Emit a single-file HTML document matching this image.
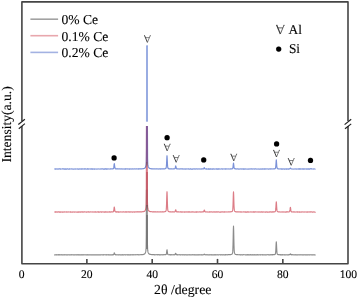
<!DOCTYPE html>
<html><head><meta charset="utf-8"><style>
html,body{margin:0;padding:0;background:#fff;}
body{width:357px;height:298px;overflow:hidden;font-family:"Liberation Serif",serif;}
svg{display:block;}
</style></head><body>
<svg width="357" height="298" viewBox="0 0 357 298">
<rect width="357" height="298" fill="#fff"/>
<g fill="none" stroke-width="1.15" stroke-linejoin="round">
<path d="M54.21 254.75 L54.37 254.85 L54.54 254.78 L54.70 254.89 L54.86 254.73 L55.03 254.78 L55.19 254.76 L55.35 254.81 L55.52 254.81 L55.68 254.74 L55.84 254.84 L56.01 254.88 L56.17 254.88 L56.33 254.72 L56.50 254.84 L56.66 254.89 L56.82 254.79 L56.99 254.87 L57.15 254.81 L57.31 254.74 L57.48 254.85 L57.64 254.81 L57.80 254.71 L57.97 254.73 L58.13 254.73 L58.29 254.89 L58.46 254.70 L58.62 254.79 L58.78 254.87 L58.95 254.70 L59.11 254.87 L59.27 254.70 L59.44 254.89 L59.60 254.88 L59.76 254.80 L59.93 254.78 L60.09 254.78 L60.25 254.74 L60.42 254.88 L60.58 254.75 L60.74 254.84 L60.91 254.71 L61.07 254.77 L61.23 254.76 L61.40 254.87 L61.56 254.72 L61.72 254.84 L61.89 254.86 L62.05 254.82 L62.21 254.74 L62.38 254.83 L62.54 254.80 L62.70 254.78 L62.86 254.85 L63.03 254.88 L63.19 254.82 L63.35 254.76 L63.52 254.76 L63.68 254.86 L63.84 254.77 L64.01 254.73 L64.17 254.76 L64.33 254.86 L64.50 254.89 L64.66 254.70 L64.82 254.76 L64.99 254.84 L65.15 254.75 L65.31 254.78 L65.48 254.77 L65.64 254.83 L65.80 254.77 L65.97 254.82 L66.13 254.82 L66.29 254.83 L66.46 254.75 L66.62 254.73 L66.78 254.84 L66.95 254.88 L67.11 254.85 L67.27 254.75 L67.44 254.83 L67.60 254.90 L67.76 254.73 L67.93 254.81 L68.09 254.89 L68.25 254.75 L68.42 254.80 L68.58 254.73 L68.74 254.73 L68.91 254.73 L69.07 254.72 L69.23 254.82 L69.40 254.74 L69.56 254.80 L69.72 254.77 L69.89 254.86 L70.05 254.77 L70.21 254.88 L70.38 254.73 L70.54 254.86 L70.70 254.79 L70.87 254.73 L71.03 254.73 L71.19 254.73 L71.36 254.81 L71.52 254.88 L71.68 254.70 L71.85 254.84 L72.01 254.73 L72.17 254.82 L72.34 254.81 L72.50 254.79 L72.66 254.79 L72.83 254.74 L72.99 254.78 L73.15 254.87 L73.32 254.79 L73.48 254.88 L73.64 254.73 L73.81 254.86 L73.97 254.83 L74.13 254.78 L74.30 254.83 L74.46 254.72 L74.62 254.74 L74.79 254.83 L74.95 254.81 L75.11 254.75 L75.28 254.80 L75.44 254.77 L75.60 254.83 L75.77 254.78 L75.93 254.78 L76.09 254.72 L76.26 254.83 L76.42 254.74 L76.58 254.86 L76.75 254.84 L76.91 254.85 L77.07 254.71 L77.24 254.88 L77.40 254.84 L77.56 254.81 L77.73 254.76 L77.89 254.77 L78.05 254.87 L78.22 254.82 L78.38 254.75 L78.54 254.87 L78.71 254.87 L78.87 254.73 L79.03 254.90 L79.19 254.88 L79.36 254.86 L79.52 254.73 L79.68 254.83 L79.85 254.81 L80.01 254.79 L80.17 254.72 L80.34 254.89 L80.50 254.86 L80.66 254.82 L80.83 254.77 L80.99 254.87 L81.15 254.81 L81.32 254.78 L81.48 254.89 L81.64 254.83 L81.81 254.89 L81.97 254.72 L82.13 254.90 L82.30 254.87 L82.46 254.78 L82.62 254.85 L82.79 254.78 L82.95 254.83 L83.11 254.70 L83.28 254.78 L83.44 254.83 L83.60 254.86 L83.77 254.80 L83.93 254.74 L84.09 254.76 L84.26 254.76 L84.42 254.80 L84.58 254.71 L84.75 254.82 L84.91 254.79 L85.07 254.71 L85.24 254.74 L85.40 254.80 L85.56 254.74 L85.73 254.74 L85.89 254.84 L86.05 254.82 L86.22 254.75 L86.38 254.82 L86.54 254.83 L86.71 254.79 L86.87 254.88 L87.03 254.85 L87.20 254.70 L87.36 254.85 L87.52 254.74 L87.69 254.90 L87.85 254.84 L88.01 254.80 L88.18 254.84 L88.34 254.71 L88.50 254.71 L88.67 254.84 L88.83 254.87 L88.99 254.71 L89.16 254.74 L89.32 254.79 L89.48 254.89 L89.65 254.90 L89.81 254.76 L89.97 254.76 L90.14 254.80 L90.30 254.83 L90.46 254.84 L90.63 254.82 L90.79 254.81 L90.95 254.78 L91.12 254.82 L91.28 254.83 L91.44 254.85 L91.61 254.77 L91.77 254.71 L91.93 254.86 L92.10 254.74 L92.26 254.77 L92.42 254.85 L92.59 254.87 L92.75 254.73 L92.91 254.87 L93.08 254.87 L93.24 254.88 L93.40 254.74 L93.57 254.82 L93.73 254.90 L93.89 254.84 L94.06 254.79 L94.22 254.80 L94.38 254.87 L94.55 254.73 L94.71 254.76 L94.87 254.84 L95.04 254.83 L95.20 254.85 L95.36 254.89 L95.52 254.78 L95.69 254.84 L95.85 254.77 L96.01 254.73 L96.18 254.83 L96.34 254.84 L96.50 254.82 L96.67 254.80 L96.83 254.89 L96.99 254.82 L97.16 254.83 L97.32 254.88 L97.48 254.73 L97.65 254.76 L97.81 254.80 L97.97 254.88 L98.14 254.75 L98.30 254.82 L98.46 254.72 L98.63 254.77 L98.79 254.85 L98.95 254.75 L99.12 254.78 L99.28 254.83 L99.44 254.74 L99.61 254.83 L99.77 254.87 L99.93 254.89 L100.10 254.77 L100.26 254.84 L100.42 254.87 L100.59 254.89 L100.75 254.74 L100.91 254.84 L101.08 254.73 L101.24 254.72 L101.40 254.73 L101.57 254.85 L101.73 254.71 L101.89 254.77 L102.06 254.73 L102.22 254.71 L102.38 254.83 L102.55 254.82 L102.71 254.72 L102.87 254.84 L103.04 254.88 L103.20 254.89 L103.36 254.79 L103.53 254.83 L103.69 254.71 L103.85 254.89 L104.02 254.82 L104.18 254.75 L104.34 254.77 L104.51 254.73 L104.67 254.77 L104.83 254.72 L105.00 254.70 L105.16 254.72 L105.32 254.77 L105.49 254.82 L105.65 254.79 L105.81 254.85 L105.98 254.84 L106.14 254.79 L106.30 254.81 L106.47 254.82 L106.63 254.88 L106.79 254.70 L106.96 254.83 L107.12 254.80 L107.28 254.82 L107.45 254.78 L107.61 254.74 L107.77 254.71 L107.94 254.77 L108.10 254.71 L108.26 254.82 L108.43 254.80 L108.59 254.83 L108.75 254.70 L108.92 254.87 L109.08 254.85 L109.24 254.74 L109.41 254.84 L109.57 254.88 L109.73 254.82 L109.90 254.80 L110.06 254.80 L110.22 254.84 L110.39 254.82 L110.55 254.83 L110.71 254.85 L110.88 254.78 L111.04 254.84 L111.20 254.84 L111.37 254.70 L111.53 254.70 L111.69 254.80 L111.85 254.77 L112.02 254.85 L112.18 254.86 L112.34 254.76 L112.51 254.67 L112.67 254.83 L112.83 254.75 L113.00 254.67 L113.16 254.80 L113.32 254.65 L113.49 254.65 L113.65 254.39 L113.81 254.05 L113.98 253.53 L114.14 252.99 L114.30 252.88 L114.47 253.04 L114.63 253.63 L114.79 254.18 L114.96 254.51 L115.12 254.61 L115.28 254.69 L115.45 254.72 L115.61 254.63 L115.77 254.79 L115.94 254.68 L116.10 254.83 L116.26 254.72 L116.43 254.78 L116.59 254.79 L116.75 254.78 L116.92 254.85 L117.08 254.83 L117.24 254.80 L117.41 254.84 L117.57 254.71 L117.73 254.75 L117.90 254.76 L118.06 254.75 L118.22 254.85 L118.39 254.88 L118.55 254.87 L118.71 254.71 L118.88 254.79 L119.04 254.69 L119.20 254.82 L119.37 254.81 L119.53 254.76 L119.69 254.72 L119.86 254.80 L120.02 254.79 L120.18 254.82 L120.35 254.84 L120.51 254.71 L120.67 254.71 L120.84 254.80 L121.00 254.86 L121.16 254.72 L121.33 254.80 L121.49 254.74 L121.65 254.81 L121.82 254.87 L121.98 254.74 L122.14 254.87 L122.31 254.70 L122.47 254.86 L122.63 254.82 L122.80 254.89 L122.96 254.85 L123.12 254.76 L123.29 254.87 L123.45 254.87 L123.61 254.88 L123.78 254.89 L123.94 254.79 L124.10 254.84 L124.27 254.74 L124.43 254.75 L124.59 254.79 L124.76 254.70 L124.92 254.69 L125.08 254.83 L125.25 254.73 L125.41 254.75 L125.57 254.85 L125.74 254.73 L125.90 254.88 L126.06 254.75 L126.23 254.71 L126.39 254.76 L126.55 254.75 L126.72 254.76 L126.88 254.81 L127.04 254.86 L127.21 254.81 L127.37 254.82 L127.53 254.72 L127.70 254.71 L127.86 254.69 L128.02 254.82 L128.18 254.71 L128.35 254.70 L128.51 254.88 L128.67 254.78 L128.84 254.87 L129.00 254.87 L129.16 254.80 L129.33 254.74 L129.49 254.85 L129.65 254.82 L129.82 254.79 L129.98 254.77 L130.14 254.86 L130.31 254.85 L130.47 254.88 L130.63 254.82 L130.80 254.68 L130.96 254.84 L131.12 254.73 L131.29 254.75 L131.45 254.71 L131.61 254.72 L131.78 254.87 L131.94 254.81 L132.10 254.71 L132.27 254.75 L132.43 254.71 L132.59 254.87 L132.76 254.71 L132.92 254.80 L133.08 254.72 L133.25 254.76 L133.41 254.80 L133.57 254.77 L133.74 254.87 L133.90 254.68 L134.06 254.70 L134.23 254.74 L134.39 254.74 L134.55 254.72 L134.72 254.78 L134.88 254.82 L135.04 254.74 L135.21 254.67 L135.37 254.69 L135.53 254.70 L135.70 254.83 L135.86 254.80 L136.02 254.80 L136.19 254.75 L136.35 254.68 L136.51 254.73 L136.68 254.74 L136.84 254.77 L137.00 254.82 L137.17 254.80 L137.33 254.65 L137.49 254.66 L137.66 254.71 L137.82 254.71 L137.98 254.80 L138.15 254.83 L138.31 254.83 L138.47 254.83 L138.64 254.79 L138.80 254.63 L138.96 254.71 L139.13 254.78 L139.29 254.80 L139.45 254.81 L139.62 254.81 L139.78 254.78 L139.94 254.74 L140.11 254.77 L140.27 254.75 L140.43 254.66 L140.60 254.76 L140.76 254.75 L140.92 254.61 L141.09 254.70 L141.25 254.63 L141.41 254.69 L141.58 254.59 L141.74 254.72 L141.90 254.66 L142.07 254.53 L142.23 254.63 L142.39 254.54 L142.56 254.61 L142.72 254.61 L142.88 254.52 L143.05 254.49 L143.21 254.55 L143.37 254.42 L143.54 254.40 L143.70 254.37 L143.86 254.24 L144.03 254.15 L144.19 254.18 L144.35 254.12 L144.51 253.92 L144.68 253.80 L144.84 253.70 L145.00 253.49 L145.17 253.29 L145.33 252.90 L145.49 252.49 L145.66 251.85 L145.82 251.13 L145.98 249.94 L146.15 247.17 L146.31 234.33 L146.47 190.00 L146.64 190.00 L146.80 190.00 L146.96 190.00 L147.13 190.00 L147.29 216.48 L147.45 244.24 L147.62 249.11 L147.78 250.70 L147.94 251.65 L148.11 252.31 L148.27 252.80 L148.43 253.11 L148.60 253.32 L148.76 253.61 L148.92 253.76 L149.09 254.02 L149.25 254.00 L149.41 254.12 L149.58 254.15 L149.74 254.30 L149.90 254.29 L150.07 254.36 L150.23 254.35 L150.39 254.45 L150.56 254.41 L150.72 254.42 L150.88 254.51 L151.05 254.54 L151.21 254.52 L151.37 254.57 L151.54 254.50 L151.70 254.52 L151.86 254.62 L152.03 254.59 L152.19 254.72 L152.35 254.57 L152.52 254.63 L152.68 254.76 L152.84 254.77 L153.01 254.61 L153.17 254.63 L153.33 254.67 L153.50 254.71 L153.66 254.75 L153.82 254.71 L153.99 254.63 L154.15 254.69 L154.31 254.81 L154.48 254.78 L154.64 254.80 L154.80 254.65 L154.97 254.66 L155.13 254.65 L155.29 254.75 L155.46 254.77 L155.62 254.83 L155.78 254.79 L155.95 254.77 L156.11 254.77 L156.27 254.78 L156.44 254.70 L156.60 254.68 L156.76 254.77 L156.93 254.69 L157.09 254.79 L157.25 254.80 L157.42 254.70 L157.58 254.84 L157.74 254.84 L157.91 254.66 L158.07 254.76 L158.23 254.78 L158.40 254.71 L158.56 254.68 L158.72 254.79 L158.89 254.70 L159.05 254.84 L159.21 254.69 L159.38 254.78 L159.54 254.79 L159.70 254.86 L159.87 254.85 L160.03 254.79 L160.19 254.84 L160.35 254.73 L160.52 254.67 L160.68 254.81 L160.84 254.72 L161.01 254.75 L161.17 254.74 L161.33 254.71 L161.50 254.77 L161.66 254.70 L161.82 254.83 L161.99 254.73 L162.15 254.76 L162.31 254.83 L162.48 254.82 L162.64 254.67 L162.80 254.74 L162.97 254.76 L163.13 254.76 L163.29 254.69 L163.46 254.73 L163.62 254.81 L163.78 254.66 L163.95 254.68 L164.11 254.69 L164.27 254.70 L164.44 254.70 L164.60 254.76 L164.76 254.63 L164.93 254.67 L165.09 254.77 L165.25 254.62 L165.42 254.68 L165.58 254.72 L165.74 254.52 L165.91 254.59 L166.07 254.45 L166.23 254.29 L166.40 253.71 L166.56 252.77 L166.72 251.34 L166.89 250.03 L167.05 249.78 L167.21 250.82 L167.38 252.30 L167.54 253.32 L167.70 254.12 L167.87 254.41 L168.03 254.50 L168.19 254.61 L168.36 254.61 L168.52 254.73 L168.68 254.73 L168.85 254.79 L169.01 254.72 L169.17 254.77 L169.34 254.67 L169.50 254.79 L169.66 254.80 L169.83 254.70 L169.99 254.81 L170.15 254.69 L170.32 254.75 L170.48 254.83 L170.64 254.72 L170.81 254.67 L170.97 254.81 L171.13 254.76 L171.30 254.76 L171.46 254.68 L171.62 254.67 L171.79 254.86 L171.95 254.80 L172.11 254.71 L172.28 254.79 L172.44 254.77 L172.60 254.76 L172.77 254.87 L172.93 254.86 L173.09 254.69 L173.26 254.79 L173.42 254.78 L173.58 254.75 L173.75 254.71 L173.91 254.68 L174.07 254.84 L174.24 254.72 L174.40 254.83 L174.56 254.71 L174.73 254.63 L174.89 254.64 L175.05 254.55 L175.22 254.21 L175.38 253.86 L175.54 253.40 L175.71 253.28 L175.87 253.54 L176.03 253.89 L176.20 254.30 L176.36 254.63 L176.52 254.72 L176.68 254.61 L176.85 254.69 L177.01 254.83 L177.17 254.70 L177.34 254.71 L177.50 254.85 L177.66 254.67 L177.83 254.84 L177.99 254.77 L178.15 254.73 L178.32 254.78 L178.48 254.81 L178.64 254.79 L178.81 254.76 L178.97 254.69 L179.13 254.71 L179.30 254.69 L179.46 254.72 L179.62 254.79 L179.79 254.82 L179.95 254.71 L180.11 254.70 L180.28 254.83 L180.44 254.73 L180.60 254.82 L180.77 254.88 L180.93 254.80 L181.09 254.71 L181.26 254.78 L181.42 254.73 L181.58 254.72 L181.75 254.73 L181.91 254.83 L182.07 254.71 L182.24 254.87 L182.40 254.79 L182.56 254.88 L182.73 254.82 L182.89 254.72 L183.05 254.73 L183.22 254.69 L183.38 254.78 L183.54 254.79 L183.71 254.86 L183.87 254.80 L184.03 254.71 L184.20 254.83 L184.36 254.72 L184.52 254.83 L184.69 254.73 L184.85 254.86 L185.01 254.70 L185.18 254.87 L185.34 254.88 L185.50 254.78 L185.67 254.74 L185.83 254.75 L185.99 254.81 L186.16 254.75 L186.32 254.85 L186.48 254.83 L186.65 254.84 L186.81 254.85 L186.97 254.89 L187.14 254.85 L187.30 254.79 L187.46 254.77 L187.63 254.83 L187.79 254.77 L187.95 254.83 L188.12 254.73 L188.28 254.89 L188.44 254.74 L188.61 254.71 L188.77 254.78 L188.93 254.77 L189.10 254.70 L189.26 254.87 L189.42 254.88 L189.59 254.79 L189.75 254.75 L189.91 254.79 L190.08 254.80 L190.24 254.81 L190.40 254.80 L190.57 254.72 L190.73 254.88 L190.89 254.76 L191.06 254.88 L191.22 254.73 L191.38 254.84 L191.55 254.74 L191.71 254.83 L191.87 254.77 L192.04 254.79 L192.20 254.70 L192.36 254.80 L192.53 254.79 L192.69 254.80 L192.85 254.85 L193.01 254.71 L193.18 254.83 L193.34 254.87 L193.50 254.85 L193.67 254.75 L193.83 254.71 L193.99 254.78 L194.16 254.70 L194.32 254.85 L194.48 254.72 L194.65 254.74 L194.81 254.85 L194.97 254.88 L195.14 254.81 L195.30 254.81 L195.46 254.80 L195.63 254.75 L195.79 254.85 L195.95 254.84 L196.12 254.83 L196.28 254.86 L196.44 254.81 L196.61 254.78 L196.77 254.84 L196.93 254.87 L197.10 254.75 L197.26 254.88 L197.42 254.72 L197.59 254.77 L197.75 254.85 L197.91 254.89 L198.08 254.73 L198.24 254.89 L198.40 254.74 L198.57 254.79 L198.73 254.76 L198.89 254.85 L199.06 254.75 L199.22 254.84 L199.38 254.78 L199.55 254.70 L199.71 254.78 L199.87 254.86 L200.04 254.85 L200.20 254.81 L200.36 254.73 L200.53 254.73 L200.69 254.81 L200.85 254.78 L201.02 254.82 L201.18 254.79 L201.34 254.83 L201.51 254.70 L201.67 254.82 L201.83 254.83 L202.00 254.76 L202.16 254.84 L202.32 254.86 L202.49 254.80 L202.65 254.72 L202.81 254.81 L202.98 254.82 L203.14 254.81 L203.30 254.74 L203.47 254.79 L203.63 254.69 L203.79 254.61 L203.96 254.55 L204.12 254.33 L204.28 254.13 L204.45 254.32 L204.61 254.38 L204.77 254.67 L204.94 254.69 L205.10 254.75 L205.26 254.73 L205.43 254.87 L205.59 254.85 L205.75 254.80 L205.92 254.70 L206.08 254.78 L206.24 254.71 L206.41 254.78 L206.57 254.69 L206.73 254.87 L206.90 254.72 L207.06 254.84 L207.22 254.85 L207.39 254.79 L207.55 254.81 L207.71 254.69 L207.88 254.71 L208.04 254.75 L208.20 254.84 L208.37 254.85 L208.53 254.80 L208.69 254.83 L208.86 254.85 L209.02 254.85 L209.18 254.84 L209.34 254.83 L209.51 254.87 L209.67 254.83 L209.83 254.70 L210.00 254.73 L210.16 254.77 L210.32 254.70 L210.49 254.71 L210.65 254.88 L210.81 254.88 L210.98 254.83 L211.14 254.79 L211.30 254.69 L211.47 254.89 L211.63 254.75 L211.79 254.74 L211.96 254.84 L212.12 254.74 L212.28 254.72 L212.45 254.88 L212.61 254.76 L212.77 254.80 L212.94 254.74 L213.10 254.86 L213.26 254.76 L213.43 254.89 L213.59 254.89 L213.75 254.81 L213.92 254.82 L214.08 254.81 L214.24 254.85 L214.41 254.69 L214.57 254.81 L214.73 254.79 L214.90 254.82 L215.06 254.72 L215.22 254.86 L215.39 254.71 L215.55 254.85 L215.71 254.72 L215.88 254.81 L216.04 254.77 L216.20 254.84 L216.37 254.73 L216.53 254.85 L216.69 254.73 L216.86 254.76 L217.02 254.71 L217.18 254.69 L217.35 254.73 L217.51 254.86 L217.67 254.73 L217.84 254.87 L218.00 254.73 L218.16 254.71 L218.33 254.86 L218.49 254.88 L218.65 254.73 L218.82 254.82 L218.98 254.75 L219.14 254.73 L219.31 254.70 L219.47 254.79 L219.63 254.72 L219.80 254.71 L219.96 254.73 L220.12 254.81 L220.29 254.70 L220.45 254.80 L220.61 254.71 L220.78 254.81 L220.94 254.79 L221.10 254.88 L221.27 254.87 L221.43 254.70 L221.59 254.79 L221.76 254.74 L221.92 254.79 L222.08 254.74 L222.25 254.78 L222.41 254.85 L222.57 254.82 L222.74 254.76 L222.90 254.85 L223.06 254.69 L223.23 254.87 L223.39 254.77 L223.55 254.71 L223.72 254.73 L223.88 254.85 L224.04 254.86 L224.21 254.74 L224.37 254.79 L224.53 254.86 L224.70 254.85 L224.86 254.74 L225.02 254.87 L225.19 254.81 L225.35 254.68 L225.51 254.82 L225.67 254.70 L225.84 254.86 L226.00 254.83 L226.16 254.85 L226.33 254.72 L226.49 254.75 L226.65 254.71 L226.82 254.69 L226.98 254.71 L227.14 254.83 L227.31 254.76 L227.47 254.84 L227.63 254.69 L227.80 254.77 L227.96 254.75 L228.12 254.66 L228.29 254.63 L228.45 254.71 L228.61 254.74 L228.78 254.64 L228.94 254.64 L229.10 254.76 L229.27 254.70 L229.43 254.60 L229.59 254.58 L229.76 254.58 L229.92 254.66 L230.08 254.71 L230.25 254.55 L230.41 254.67 L230.57 254.56 L230.74 254.58 L230.90 254.46 L231.06 254.52 L231.23 254.47 L231.39 254.33 L231.55 254.28 L231.72 254.14 L231.88 254.21 L232.04 254.06 L232.21 253.75 L232.37 253.48 L232.53 252.89 L232.70 251.90 L232.86 249.59 L233.02 244.75 L233.19 237.40 L233.35 229.42 L233.51 226.17 L233.68 230.54 L233.84 238.78 L234.00 245.71 L234.17 250.09 L234.33 252.04 L234.49 253.15 L234.66 253.51 L234.82 253.78 L234.98 254.07 L235.15 254.13 L235.31 254.33 L235.47 254.43 L235.64 254.45 L235.80 254.54 L235.96 254.51 L236.13 254.50 L236.29 254.48 L236.45 254.64 L236.62 254.61 L236.78 254.59 L236.94 254.68 L237.11 254.70 L237.27 254.70 L237.43 254.61 L237.60 254.72 L237.76 254.64 L237.92 254.77 L238.09 254.75 L238.25 254.76 L238.41 254.78 L238.58 254.80 L238.74 254.75 L238.90 254.67 L239.07 254.71 L239.23 254.64 L239.39 254.78 L239.56 254.79 L239.72 254.80 L239.88 254.75 L240.05 254.83 L240.21 254.70 L240.37 254.77 L240.54 254.85 L240.70 254.76 L240.86 254.78 L241.03 254.83 L241.19 254.81 L241.35 254.73 L241.52 254.67 L241.68 254.75 L241.84 254.82 L242.00 254.87 L242.17 254.81 L242.33 254.83 L242.49 254.79 L242.66 254.79 L242.82 254.82 L242.98 254.85 L243.15 254.69 L243.31 254.69 L243.47 254.74 L243.64 254.69 L243.80 254.77 L243.96 254.73 L244.13 254.79 L244.29 254.75 L244.45 254.71 L244.62 254.74 L244.78 254.72 L244.94 254.76 L245.11 254.82 L245.27 254.72 L245.43 254.71 L245.60 254.84 L245.76 254.85 L245.92 254.88 L246.09 254.84 L246.25 254.85 L246.41 254.85 L246.58 254.85 L246.74 254.82 L246.90 254.85 L247.07 254.70 L247.23 254.87 L247.39 254.89 L247.56 254.70 L247.72 254.81 L247.88 254.74 L248.05 254.83 L248.21 254.89 L248.37 254.88 L248.54 254.71 L248.70 254.88 L248.86 254.80 L249.03 254.84 L249.19 254.76 L249.35 254.82 L249.52 254.73 L249.68 254.85 L249.84 254.78 L250.01 254.70 L250.17 254.79 L250.33 254.70 L250.50 254.88 L250.66 254.72 L250.82 254.81 L250.99 254.69 L251.15 254.75 L251.31 254.84 L251.48 254.74 L251.64 254.86 L251.80 254.79 L251.97 254.74 L252.13 254.86 L252.29 254.88 L252.46 254.72 L252.62 254.86 L252.78 254.74 L252.95 254.80 L253.11 254.85 L253.27 254.72 L253.44 254.82 L253.60 254.84 L253.76 254.71 L253.93 254.70 L254.09 254.83 L254.25 254.70 L254.42 254.87 L254.58 254.73 L254.74 254.78 L254.91 254.84 L255.07 254.81 L255.23 254.83 L255.40 254.76 L255.56 254.81 L255.72 254.81 L255.89 254.76 L256.05 254.82 L256.21 254.88 L256.38 254.80 L256.54 254.72 L256.70 254.85 L256.87 254.84 L257.03 254.71 L257.19 254.86 L257.36 254.70 L257.52 254.83 L257.68 254.85 L257.85 254.75 L258.01 254.72 L258.17 254.80 L258.33 254.84 L258.50 254.87 L258.66 254.89 L258.82 254.75 L258.99 254.75 L259.15 254.83 L259.31 254.80 L259.48 254.74 L259.64 254.75 L259.80 254.76 L259.97 254.71 L260.13 254.85 L260.29 254.70 L260.46 254.77 L260.62 254.83 L260.78 254.76 L260.95 254.83 L261.11 254.81 L261.27 254.73 L261.44 254.73 L261.60 254.77 L261.76 254.73 L261.93 254.72 L262.09 254.82 L262.25 254.88 L262.42 254.70 L262.58 254.88 L262.74 254.80 L262.91 254.87 L263.07 254.78 L263.23 254.74 L263.40 254.89 L263.56 254.79 L263.72 254.81 L263.89 254.76 L264.05 254.71 L264.21 254.76 L264.38 254.88 L264.54 254.82 L264.70 254.80 L264.87 254.86 L265.03 254.72 L265.19 254.82 L265.36 254.82 L265.52 254.85 L265.68 254.78 L265.85 254.73 L266.01 254.87 L266.17 254.79 L266.34 254.83 L266.50 254.88 L266.66 254.81 L266.83 254.76 L266.99 254.77 L267.15 254.69 L267.32 254.75 L267.48 254.70 L267.64 254.74 L267.81 254.75 L267.97 254.71 L268.13 254.71 L268.30 254.73 L268.46 254.82 L268.62 254.83 L268.79 254.71 L268.95 254.88 L269.11 254.80 L269.28 254.71 L269.44 254.82 L269.60 254.78 L269.77 254.81 L269.93 254.75 L270.09 254.71 L270.26 254.86 L270.42 254.79 L270.58 254.70 L270.75 254.79 L270.91 254.67 L271.07 254.81 L271.24 254.76 L271.40 254.83 L271.56 254.69 L271.73 254.76 L271.89 254.69 L272.05 254.71 L272.22 254.80 L272.38 254.67 L272.54 254.83 L272.71 254.65 L272.87 254.67 L273.03 254.77 L273.20 254.70 L273.36 254.73 L273.52 254.70 L273.69 254.59 L273.85 254.67 L274.01 254.63 L274.18 254.71 L274.34 254.68 L274.50 254.55 L274.66 254.52 L274.83 254.35 L274.99 254.33 L275.15 254.14 L275.32 253.98 L275.48 253.46 L275.64 252.57 L275.81 250.58 L275.97 247.17 L276.13 243.55 L276.30 241.86 L276.46 243.56 L276.62 247.14 L276.79 250.34 L276.95 252.46 L277.11 253.54 L277.28 253.97 L277.44 254.24 L277.60 254.36 L277.77 254.50 L277.93 254.46 L278.09 254.64 L278.26 254.58 L278.42 254.70 L278.58 254.71 L278.75 254.61 L278.91 254.60 L279.07 254.69 L279.24 254.61 L279.40 254.67 L279.56 254.71 L279.73 254.71 L279.89 254.83 L280.05 254.82 L280.22 254.69 L280.38 254.77 L280.54 254.66 L280.71 254.80 L280.87 254.80 L281.03 254.82 L281.20 254.68 L281.36 254.76 L281.52 254.82 L281.69 254.86 L281.85 254.75 L282.01 254.87 L282.18 254.70 L282.34 254.84 L282.50 254.72 L282.67 254.70 L282.83 254.82 L282.99 254.76 L283.16 254.74 L283.32 254.79 L283.48 254.80 L283.65 254.71 L283.81 254.83 L283.97 254.77 L284.14 254.88 L284.30 254.77 L284.46 254.69 L284.63 254.81 L284.79 254.74 L284.95 254.82 L285.12 254.81 L285.28 254.81 L285.44 254.71 L285.61 254.82 L285.77 254.88 L285.93 254.78 L286.10 254.77 L286.26 254.77 L286.42 254.79 L286.59 254.83 L286.75 254.74 L286.91 254.84 L287.08 254.83 L287.24 254.85 L287.40 254.87 L287.57 254.84 L287.73 254.75 L287.89 254.80 L288.06 254.79 L288.22 254.83 L288.38 254.83 L288.55 254.74 L288.71 254.68 L288.87 254.84 L289.04 254.72 L289.20 254.66 L289.36 254.73 L289.53 254.63 L289.69 254.72 L289.85 254.47 L290.02 254.39 L290.18 254.08 L290.34 253.89 L290.51 253.95 L290.67 254.05 L290.83 254.41 L290.99 254.60 L291.16 254.63 L291.32 254.77 L291.48 254.67 L291.65 254.82 L291.81 254.67 L291.97 254.70 L292.14 254.78 L292.30 254.69 L292.46 254.71 L292.63 254.69 L292.79 254.83 L292.95 254.80 L293.12 254.83 L293.28 254.80 L293.44 254.78 L293.61 254.72 L293.77 254.83 L293.93 254.78 L294.10 254.84 L294.26 254.80 L294.42 254.88 L294.59 254.78 L294.75 254.77 L294.91 254.78 L295.08 254.72 L295.24 254.79 L295.40 254.84 L295.57 254.70 L295.73 254.81 L295.89 254.86 L296.06 254.79 L296.22 254.75 L296.38 254.84 L296.55 254.85 L296.71 254.88 L296.87 254.78 L297.04 254.82 L297.20 254.74 L297.36 254.86 L297.53 254.77 L297.69 254.87 L297.85 254.86 L298.02 254.87 L298.18 254.77 L298.34 254.75 L298.51 254.81 L298.67 254.73 L298.83 254.74 L299.00 254.72 L299.16 254.77 L299.32 254.81 L299.49 254.81 L299.65 254.74 L299.81 254.84 L299.98 254.85 L300.14 254.70 L300.30 254.71 L300.47 254.77 L300.63 254.73 L300.79 254.89 L300.96 254.74 L301.12 254.78 L301.28 254.84 L301.45 254.84 L301.61 254.76 L301.77 254.71 L301.94 254.75 L302.10 254.89 L302.26 254.78 L302.43 254.83 L302.59 254.85 L302.75 254.89 L302.92 254.78 L303.08 254.84 L303.24 254.83 L303.41 254.80 L303.57 254.72 L303.73 254.84 L303.90 254.78 L304.06 254.77 L304.22 254.75 L304.39 254.73 L304.55 254.85 L304.71 254.73 L304.88 254.88 L305.04 254.81 L305.20 254.75 L305.37 254.72 L305.53 254.83 L305.69 254.76 L305.86 254.76 L306.02 254.89 L306.18 254.75 L306.35 254.73 L306.51 254.87 L306.67 254.83 L306.84 254.81 L307.00 254.71 L307.16 254.71 L307.32 254.86 L307.49 254.82 L307.65 254.87 L307.81 254.89 L307.98 254.86 L308.14 254.71 L308.30 254.72 L308.47 254.86 L308.63 254.77 L308.79 254.77 L308.96 254.81 L309.12 254.73 L309.28 254.88 L309.45 254.84 L309.61 254.88 L309.77 254.72 L309.94 254.74 L310.10 254.81 L310.26 254.88 L310.43 254.73 L310.59 254.74 L310.75 254.72 L310.92 254.71 L311.08 254.77 L311.24 254.80 L311.41 254.74 L311.57 254.87 L311.73 254.73 L311.90 254.84 L312.06 254.81 L312.22 254.72 L312.39 254.90 L312.55 254.83 L312.71 254.74 L312.88 254.82 L313.04 254.72 L313.20 254.76 L313.37 254.85 L313.53 254.80 L313.69 254.83 L313.86 254.77 L314.02 254.76 L314.18 254.80 L314.35 254.88 L314.51 254.73 L314.67 254.86 L314.84 254.77 L315.00 254.73 L315.16 254.81 L315.33 254.89 L315.49 254.79" stroke="#8c8c8c" style="mix-blend-mode:multiply"/>
<path d="M54.21 212.00 L54.37 212.00 L54.54 212.01 L54.70 212.00 L54.86 211.96 L55.03 212.06 L55.19 211.90 L55.35 212.08 L55.52 211.93 L55.68 212.06 L55.84 211.94 L56.01 212.05 L56.17 212.08 L56.33 211.99 L56.50 211.93 L56.66 211.93 L56.82 211.92 L56.99 211.90 L57.15 212.09 L57.31 212.02 L57.48 212.08 L57.64 211.95 L57.80 212.01 L57.97 211.95 L58.13 211.94 L58.29 211.90 L58.46 211.96 L58.62 211.92 L58.78 211.99 L58.95 212.08 L59.11 211.92 L59.27 212.08 L59.44 212.08 L59.60 211.93 L59.76 212.04 L59.93 211.97 L60.09 212.09 L60.25 212.06 L60.42 211.96 L60.58 212.09 L60.74 212.00 L60.91 211.91 L61.07 212.06 L61.23 211.96 L61.40 211.95 L61.56 211.98 L61.72 211.95 L61.89 211.96 L62.05 212.10 L62.21 212.06 L62.38 211.99 L62.54 211.91 L62.70 212.06 L62.86 211.98 L63.03 212.07 L63.19 211.93 L63.35 212.01 L63.52 211.99 L63.68 211.97 L63.84 212.07 L64.01 211.95 L64.17 211.94 L64.33 211.93 L64.50 212.04 L64.66 212.05 L64.82 212.07 L64.99 211.92 L65.15 212.01 L65.31 212.02 L65.48 211.99 L65.64 211.96 L65.80 212.04 L65.97 212.03 L66.13 211.95 L66.29 211.94 L66.46 212.04 L66.62 212.08 L66.78 211.91 L66.95 211.95 L67.11 211.98 L67.27 212.02 L67.44 211.91 L67.60 212.01 L67.76 212.06 L67.93 212.08 L68.09 212.03 L68.25 211.98 L68.42 212.03 L68.58 211.91 L68.74 211.97 L68.91 212.01 L69.07 211.97 L69.23 211.98 L69.40 211.98 L69.56 212.00 L69.72 211.99 L69.89 212.00 L70.05 211.93 L70.21 212.06 L70.38 211.94 L70.54 212.04 L70.70 211.93 L70.87 212.08 L71.03 212.00 L71.19 212.01 L71.36 211.96 L71.52 212.06 L71.68 212.05 L71.85 212.07 L72.01 211.99 L72.17 211.98 L72.34 212.10 L72.50 212.06 L72.66 212.06 L72.83 211.91 L72.99 212.01 L73.15 211.99 L73.32 212.04 L73.48 211.97 L73.64 211.94 L73.81 211.96 L73.97 212.10 L74.13 212.01 L74.30 212.00 L74.46 212.09 L74.62 211.94 L74.79 212.03 L74.95 212.04 L75.11 211.97 L75.28 211.98 L75.44 212.00 L75.60 211.93 L75.77 211.99 L75.93 212.03 L76.09 212.09 L76.26 211.99 L76.42 212.03 L76.58 211.99 L76.75 212.03 L76.91 212.10 L77.07 212.09 L77.24 212.07 L77.40 212.08 L77.56 211.93 L77.73 211.98 L77.89 212.05 L78.05 211.96 L78.22 211.97 L78.38 212.09 L78.54 211.95 L78.71 212.05 L78.87 211.90 L79.03 212.07 L79.19 212.04 L79.36 212.05 L79.52 211.93 L79.68 211.93 L79.85 211.98 L80.01 212.07 L80.17 212.01 L80.34 211.96 L80.50 212.09 L80.66 211.91 L80.83 211.93 L80.99 211.91 L81.15 211.96 L81.32 211.97 L81.48 211.90 L81.64 212.04 L81.81 212.04 L81.97 212.07 L82.13 212.06 L82.30 211.94 L82.46 212.08 L82.62 211.95 L82.79 212.02 L82.95 211.92 L83.11 211.95 L83.28 211.96 L83.44 211.93 L83.60 212.09 L83.77 212.05 L83.93 212.02 L84.09 212.01 L84.26 211.96 L84.42 211.92 L84.58 211.95 L84.75 211.91 L84.91 211.96 L85.07 212.03 L85.24 212.00 L85.40 211.95 L85.56 211.94 L85.73 212.02 L85.89 212.03 L86.05 211.98 L86.22 212.05 L86.38 211.92 L86.54 212.10 L86.71 211.97 L86.87 212.00 L87.03 212.06 L87.20 211.98 L87.36 212.00 L87.52 211.91 L87.69 211.92 L87.85 211.98 L88.01 211.92 L88.18 211.92 L88.34 212.06 L88.50 211.93 L88.67 211.93 L88.83 211.90 L88.99 211.95 L89.16 212.02 L89.32 212.06 L89.48 211.97 L89.65 212.06 L89.81 211.95 L89.97 211.98 L90.14 211.93 L90.30 212.03 L90.46 212.04 L90.63 211.92 L90.79 211.97 L90.95 212.02 L91.12 211.99 L91.28 212.01 L91.44 211.97 L91.61 211.99 L91.77 212.04 L91.93 211.90 L92.10 211.92 L92.26 211.95 L92.42 212.04 L92.59 212.06 L92.75 211.95 L92.91 211.93 L93.08 211.97 L93.24 212.05 L93.40 211.95 L93.57 211.99 L93.73 212.02 L93.89 211.98 L94.06 212.01 L94.22 211.97 L94.38 211.95 L94.55 211.90 L94.71 212.07 L94.87 211.98 L95.04 211.91 L95.20 211.97 L95.36 211.98 L95.52 211.93 L95.69 212.09 L95.85 211.94 L96.01 211.97 L96.18 211.98 L96.34 212.03 L96.50 211.97 L96.67 212.07 L96.83 211.99 L96.99 212.05 L97.16 211.91 L97.32 211.94 L97.48 212.00 L97.65 211.95 L97.81 212.02 L97.97 211.99 L98.14 212.06 L98.30 211.92 L98.46 211.94 L98.63 211.94 L98.79 212.08 L98.95 211.93 L99.12 212.09 L99.28 211.98 L99.44 212.00 L99.61 212.08 L99.77 212.01 L99.93 211.92 L100.10 211.97 L100.26 212.03 L100.42 211.93 L100.59 212.02 L100.75 211.92 L100.91 212.02 L101.08 212.08 L101.24 211.90 L101.40 212.08 L101.57 212.04 L101.73 211.94 L101.89 212.07 L102.06 211.99 L102.22 211.92 L102.38 211.98 L102.55 212.03 L102.71 211.94 L102.87 211.93 L103.04 211.98 L103.20 211.97 L103.36 212.03 L103.53 212.01 L103.69 211.90 L103.85 211.90 L104.02 212.09 L104.18 212.05 L104.34 212.05 L104.51 211.93 L104.67 212.05 L104.83 212.06 L105.00 211.94 L105.16 212.06 L105.32 211.90 L105.49 212.00 L105.65 211.91 L105.81 211.93 L105.98 212.05 L106.14 211.93 L106.30 212.01 L106.47 212.05 L106.63 212.08 L106.79 211.95 L106.96 211.98 L107.12 212.03 L107.28 211.92 L107.45 212.05 L107.61 212.00 L107.77 212.07 L107.94 212.02 L108.10 211.91 L108.26 211.99 L108.43 212.06 L108.59 212.04 L108.75 211.96 L108.92 212.03 L109.08 211.91 L109.24 212.07 L109.41 211.91 L109.57 211.96 L109.73 211.92 L109.90 212.01 L110.06 212.06 L110.22 212.04 L110.39 211.95 L110.55 212.07 L110.71 212.05 L110.88 211.91 L111.04 211.89 L111.20 211.89 L111.37 211.89 L111.53 211.94 L111.69 211.87 L111.85 211.90 L112.02 211.92 L112.18 211.94 L112.34 212.01 L112.51 211.98 L112.67 211.93 L112.83 211.86 L113.00 211.90 L113.16 211.67 L113.32 211.67 L113.49 211.45 L113.65 211.02 L113.81 210.35 L113.98 208.95 L114.14 207.54 L114.30 207.04 L114.47 207.77 L114.63 209.04 L114.79 210.27 L114.96 211.07 L115.12 211.53 L115.28 211.67 L115.45 211.85 L115.61 211.87 L115.77 211.87 L115.94 211.83 L116.10 211.98 L116.26 211.83 L116.43 212.02 L116.59 211.84 L116.75 211.99 L116.92 211.88 L117.08 211.89 L117.24 211.87 L117.41 211.97 L117.57 211.92 L117.73 212.01 L117.90 211.90 L118.06 212.05 L118.22 211.90 L118.39 211.96 L118.55 212.06 L118.71 211.89 L118.88 212.01 L119.04 212.07 L119.20 212.03 L119.37 212.08 L119.53 212.02 L119.69 211.94 L119.86 211.88 L120.02 211.96 L120.18 211.91 L120.35 211.92 L120.51 211.94 L120.67 212.01 L120.84 212.03 L121.00 212.05 L121.16 211.98 L121.33 212.04 L121.49 211.94 L121.65 212.02 L121.82 211.97 L121.98 211.98 L122.14 211.96 L122.31 212.06 L122.47 212.04 L122.63 211.95 L122.80 212.04 L122.96 211.95 L123.12 211.89 L123.29 212.01 L123.45 211.89 L123.61 211.96 L123.78 211.90 L123.94 211.98 L124.10 211.94 L124.27 211.95 L124.43 212.05 L124.59 211.98 L124.76 211.97 L124.92 211.99 L125.08 211.95 L125.25 211.90 L125.41 211.93 L125.57 211.92 L125.74 212.06 L125.90 211.95 L126.06 211.96 L126.23 211.90 L126.39 212.09 L126.55 212.05 L126.72 211.89 L126.88 212.01 L127.04 211.94 L127.21 211.97 L127.37 212.01 L127.53 212.00 L127.70 211.97 L127.86 211.89 L128.02 211.98 L128.18 211.93 L128.35 212.02 L128.51 211.94 L128.67 211.96 L128.84 211.93 L129.00 211.91 L129.16 212.07 L129.33 211.89 L129.49 211.96 L129.65 212.03 L129.82 211.99 L129.98 212.06 L130.14 212.03 L130.31 211.91 L130.47 211.94 L130.63 211.91 L130.80 212.05 L130.96 212.06 L131.12 212.00 L131.29 211.98 L131.45 211.94 L131.61 212.02 L131.78 211.93 L131.94 211.96 L132.10 212.02 L132.27 211.92 L132.43 212.06 L132.59 211.96 L132.76 212.04 L132.92 212.07 L133.08 211.98 L133.25 211.97 L133.41 211.95 L133.57 212.00 L133.74 211.88 L133.90 211.91 L134.06 212.04 L134.23 212.07 L134.39 211.88 L134.55 211.98 L134.72 212.05 L134.88 212.03 L135.04 211.92 L135.21 212.03 L135.37 211.99 L135.53 211.93 L135.70 211.99 L135.86 211.93 L136.02 211.87 L136.19 211.90 L136.35 211.93 L136.51 211.93 L136.68 211.99 L136.84 211.92 L137.00 211.92 L137.17 211.93 L137.33 211.95 L137.49 211.89 L137.66 212.00 L137.82 211.90 L137.98 211.84 L138.15 212.03 L138.31 211.98 L138.47 211.83 L138.64 212.01 L138.80 211.86 L138.96 211.91 L139.13 212.01 L139.29 211.89 L139.45 212.01 L139.62 211.84 L139.78 211.94 L139.94 211.82 L140.11 211.82 L140.27 211.96 L140.43 211.91 L140.60 211.95 L140.76 211.82 L140.92 211.95 L141.09 211.94 L141.25 211.93 L141.41 211.77 L141.58 211.88 L141.74 211.86 L141.90 211.82 L142.07 211.79 L142.23 211.80 L142.39 211.68 L142.56 211.78 L142.72 211.73 L142.88 211.63 L143.05 211.73 L143.21 211.72 L143.37 211.55 L143.54 211.62 L143.70 211.46 L143.86 211.42 L144.03 211.46 L144.19 211.39 L144.35 211.36 L144.51 211.10 L144.68 211.06 L144.84 210.93 L145.00 210.77 L145.17 210.51 L145.33 210.06 L145.49 209.78 L145.66 209.11 L145.82 208.26 L145.98 207.04 L146.15 204.44 L146.31 191.56 L146.47 126.06 L146.64 126.00 L146.80 126.00 L146.96 126.00 L147.13 126.00 L147.29 173.62 L147.45 201.48 L147.62 206.30 L147.78 207.79 L147.94 208.73 L148.11 209.46 L148.27 210.04 L148.43 210.23 L148.60 210.67 L148.76 210.85 L148.92 210.89 L149.09 211.06 L149.25 211.18 L149.41 211.41 L149.58 211.33 L149.74 211.48 L149.90 211.61 L150.07 211.50 L150.23 211.52 L150.39 211.73 L150.56 211.68 L150.72 211.61 L150.88 211.75 L151.05 211.78 L151.21 211.70 L151.37 211.78 L151.54 211.69 L151.70 211.73 L151.86 211.74 L152.03 211.78 L152.19 211.89 L152.35 211.81 L152.52 211.84 L152.68 211.86 L152.84 211.85 L153.01 211.91 L153.17 211.94 L153.33 211.80 L153.50 211.92 L153.66 211.97 L153.82 211.80 L153.99 211.90 L154.15 211.87 L154.31 211.94 L154.48 211.98 L154.64 211.95 L154.80 211.85 L154.97 211.97 L155.13 211.84 L155.29 211.96 L155.46 211.85 L155.62 211.99 L155.78 211.94 L155.95 212.01 L156.11 212.00 L156.27 211.93 L156.44 211.96 L156.60 211.93 L156.76 212.00 L156.93 211.98 L157.09 211.98 L157.25 211.86 L157.42 212.03 L157.58 211.96 L157.74 211.87 L157.91 211.93 L158.07 211.99 L158.23 211.85 L158.40 212.02 L158.56 212.02 L158.72 212.04 L158.89 211.96 L159.05 211.88 L159.21 211.99 L159.38 211.99 L159.54 211.89 L159.70 212.03 L159.87 212.04 L160.03 211.91 L160.19 212.03 L160.35 211.94 L160.52 212.01 L160.68 211.92 L160.84 211.87 L161.01 211.95 L161.17 211.98 L161.33 211.91 L161.50 211.89 L161.66 212.02 L161.82 211.98 L161.99 211.95 L162.15 211.92 L162.31 211.96 L162.48 211.88 L162.64 211.96 L162.80 211.82 L162.97 211.93 L163.13 211.95 L163.29 211.97 L163.46 211.95 L163.62 211.92 L163.78 211.78 L163.95 211.86 L164.11 211.84 L164.27 211.72 L164.44 211.69 L164.60 211.71 L164.76 211.78 L164.93 211.72 L165.09 211.63 L165.25 211.62 L165.42 211.52 L165.58 211.43 L165.74 211.27 L165.91 210.93 L166.07 210.53 L166.23 209.63 L166.40 207.59 L166.56 203.71 L166.72 198.09 L166.89 192.97 L167.05 191.70 L167.21 195.88 L167.38 201.76 L167.54 206.26 L167.70 208.97 L167.87 210.31 L168.03 210.94 L168.19 211.15 L168.36 211.33 L168.52 211.47 L168.68 211.62 L168.85 211.60 L169.01 211.72 L169.17 211.66 L169.34 211.74 L169.50 211.82 L169.66 211.74 L169.83 211.83 L169.99 211.92 L170.15 211.90 L170.32 211.96 L170.48 211.89 L170.64 211.80 L170.81 211.81 L170.97 211.87 L171.13 211.98 L171.30 211.96 L171.46 211.98 L171.62 211.95 L171.79 211.90 L171.95 212.02 L172.11 211.93 L172.28 211.95 L172.44 211.90 L172.60 211.87 L172.77 211.96 L172.93 211.92 L173.09 211.98 L173.26 211.94 L173.42 211.91 L173.58 212.02 L173.75 211.92 L173.91 211.92 L174.07 211.98 L174.24 211.95 L174.40 211.82 L174.56 211.90 L174.73 211.89 L174.89 211.79 L175.05 211.56 L175.22 211.21 L175.38 210.63 L175.54 210.00 L175.71 209.73 L175.87 210.00 L176.03 210.63 L176.20 211.31 L176.36 211.56 L176.52 211.80 L176.68 211.74 L176.85 211.79 L177.01 211.97 L177.17 211.88 L177.34 211.96 L177.50 212.02 L177.66 211.87 L177.83 211.87 L177.99 211.90 L178.15 211.93 L178.32 211.87 L178.48 211.95 L178.64 211.93 L178.81 211.94 L178.97 211.90 L179.13 211.90 L179.30 212.01 L179.46 212.03 L179.62 211.97 L179.79 211.96 L179.95 212.01 L180.11 211.91 L180.28 211.91 L180.44 211.94 L180.60 211.97 L180.77 211.94 L180.93 212.04 L181.09 211.92 L181.26 212.06 L181.42 211.90 L181.58 211.96 L181.75 212.03 L181.91 212.05 L182.07 211.97 L182.24 211.99 L182.40 211.95 L182.56 212.07 L182.73 211.91 L182.89 212.00 L183.05 212.00 L183.22 211.94 L183.38 211.97 L183.54 212.00 L183.71 212.03 L183.87 212.00 L184.03 212.08 L184.20 212.04 L184.36 211.92 L184.52 212.07 L184.69 212.07 L184.85 211.92 L185.01 212.02 L185.18 211.98 L185.34 211.97 L185.50 211.95 L185.67 212.03 L185.83 211.94 L185.99 212.09 L186.16 211.92 L186.32 212.03 L186.48 211.97 L186.65 212.03 L186.81 211.94 L186.97 212.02 L187.14 211.97 L187.30 212.03 L187.46 211.93 L187.63 211.94 L187.79 212.05 L187.95 211.94 L188.12 211.90 L188.28 212.04 L188.44 212.05 L188.61 211.91 L188.77 211.90 L188.93 212.07 L189.10 211.94 L189.26 211.91 L189.42 212.04 L189.59 211.94 L189.75 212.03 L189.91 211.94 L190.08 211.99 L190.24 212.00 L190.40 212.07 L190.57 211.96 L190.73 211.95 L190.89 212.03 L191.06 212.08 L191.22 212.07 L191.38 212.04 L191.55 211.89 L191.71 211.94 L191.87 211.91 L192.04 211.94 L192.20 212.07 L192.36 212.02 L192.53 211.90 L192.69 211.92 L192.85 211.90 L193.01 211.93 L193.18 211.95 L193.34 211.94 L193.50 211.91 L193.67 212.01 L193.83 212.09 L193.99 212.03 L194.16 212.09 L194.32 212.04 L194.48 211.98 L194.65 212.04 L194.81 212.04 L194.97 212.07 L195.14 212.02 L195.30 211.99 L195.46 211.98 L195.63 211.90 L195.79 212.08 L195.95 212.04 L196.12 212.08 L196.28 211.91 L196.44 211.97 L196.61 211.96 L196.77 211.93 L196.93 212.09 L197.10 211.91 L197.26 212.03 L197.42 211.97 L197.59 212.01 L197.75 211.94 L197.91 212.03 L198.08 212.04 L198.24 212.04 L198.40 211.95 L198.57 212.00 L198.73 212.06 L198.89 212.02 L199.06 211.98 L199.22 212.02 L199.38 211.97 L199.55 211.92 L199.71 211.96 L199.87 211.93 L200.04 212.03 L200.20 211.91 L200.36 211.90 L200.53 211.98 L200.69 212.08 L200.85 212.07 L201.02 211.93 L201.18 211.91 L201.34 211.94 L201.51 211.98 L201.67 211.97 L201.83 212.05 L202.00 211.95 L202.16 211.87 L202.32 212.02 L202.49 211.94 L202.65 211.88 L202.81 211.91 L202.98 211.96 L203.14 211.96 L203.30 211.83 L203.47 211.73 L203.63 211.59 L203.79 211.39 L203.96 210.83 L204.12 210.25 L204.28 210.02 L204.45 210.16 L204.61 210.78 L204.77 211.34 L204.94 211.72 L205.10 211.74 L205.26 211.82 L205.43 211.99 L205.59 212.01 L205.75 211.97 L205.92 212.01 L206.08 211.91 L206.24 212.02 L206.41 211.95 L206.57 211.96 L206.73 212.00 L206.90 211.91 L207.06 211.99 L207.22 211.98 L207.39 211.95 L207.55 212.00 L207.71 212.05 L207.88 211.89 L208.04 211.94 L208.20 211.98 L208.37 211.99 L208.53 211.96 L208.69 212.03 L208.86 212.07 L209.02 211.98 L209.18 211.91 L209.34 212.07 L209.51 211.89 L209.67 212.02 L209.83 211.89 L210.00 211.94 L210.16 212.04 L210.32 212.05 L210.49 211.91 L210.65 211.90 L210.81 211.93 L210.98 211.98 L211.14 211.98 L211.30 211.94 L211.47 211.93 L211.63 211.93 L211.79 212.04 L211.96 211.93 L212.12 211.90 L212.28 211.98 L212.45 212.09 L212.61 212.06 L212.77 211.96 L212.94 212.01 L213.10 211.91 L213.26 211.96 L213.43 211.95 L213.59 212.06 L213.75 211.99 L213.92 211.95 L214.08 211.91 L214.24 211.91 L214.41 212.04 L214.57 211.99 L214.73 211.90 L214.90 212.08 L215.06 212.08 L215.22 212.06 L215.39 211.95 L215.55 212.03 L215.71 211.95 L215.88 211.93 L216.04 211.93 L216.20 212.08 L216.37 211.96 L216.53 211.93 L216.69 211.95 L216.86 211.92 L217.02 211.93 L217.18 211.97 L217.35 211.92 L217.51 211.98 L217.67 212.07 L217.84 212.04 L218.00 211.91 L218.16 212.02 L218.33 212.00 L218.49 211.92 L218.65 211.95 L218.82 211.93 L218.98 212.00 L219.14 211.99 L219.31 212.08 L219.47 212.05 L219.63 212.06 L219.80 211.98 L219.96 211.99 L220.12 212.08 L220.29 211.96 L220.45 212.07 L220.61 212.01 L220.78 212.08 L220.94 211.99 L221.10 212.06 L221.27 211.90 L221.43 212.02 L221.59 211.92 L221.76 212.00 L221.92 212.02 L222.08 211.92 L222.25 212.03 L222.41 211.98 L222.57 211.96 L222.74 211.89 L222.90 211.95 L223.06 212.08 L223.23 211.99 L223.39 211.89 L223.55 211.91 L223.72 212.01 L223.88 212.06 L224.04 212.03 L224.21 211.93 L224.37 212.05 L224.53 211.90 L224.70 212.03 L224.86 211.94 L225.02 211.94 L225.19 212.03 L225.35 211.97 L225.51 211.95 L225.67 212.02 L225.84 211.97 L226.00 211.95 L226.16 211.88 L226.33 212.02 L226.49 212.04 L226.65 211.97 L226.82 211.95 L226.98 211.97 L227.14 211.88 L227.31 212.02 L227.47 211.96 L227.63 211.97 L227.80 212.02 L227.96 211.96 L228.12 211.96 L228.29 211.98 L228.45 211.89 L228.61 211.85 L228.78 211.85 L228.94 211.99 L229.10 211.96 L229.27 211.84 L229.43 212.00 L229.59 212.00 L229.76 211.99 L229.92 211.81 L230.08 211.89 L230.25 211.89 L230.41 211.94 L230.57 211.77 L230.74 211.73 L230.90 211.77 L231.06 211.70 L231.23 211.74 L231.39 211.75 L231.55 211.73 L231.72 211.64 L231.88 211.60 L232.04 211.45 L232.21 211.37 L232.37 211.16 L232.53 210.63 L232.70 209.88 L232.86 208.19 L233.02 204.93 L233.19 199.69 L233.35 194.11 L233.51 191.76 L233.68 194.95 L233.84 200.62 L234.00 205.58 L234.17 208.56 L234.33 210.15 L234.49 210.88 L234.66 211.13 L234.82 211.23 L234.98 211.51 L235.15 211.52 L235.31 211.69 L235.47 211.72 L235.64 211.70 L235.80 211.84 L235.96 211.80 L236.13 211.79 L236.29 211.86 L236.45 211.80 L236.62 211.80 L236.78 211.92 L236.94 211.84 L237.11 211.85 L237.27 211.89 L237.43 211.90 L237.60 211.91 L237.76 211.88 L237.92 211.89 L238.09 211.98 L238.25 211.91 L238.41 211.90 L238.58 211.96 L238.74 211.87 L238.90 211.99 L239.07 211.95 L239.23 211.94 L239.39 211.94 L239.56 212.03 L239.72 211.93 L239.88 212.04 L240.05 211.96 L240.21 211.98 L240.37 211.93 L240.54 211.90 L240.70 211.88 L240.86 212.03 L241.03 211.89 L241.19 211.98 L241.35 211.98 L241.52 212.07 L241.68 211.91 L241.84 212.03 L242.00 212.02 L242.17 212.02 L242.33 212.03 L242.49 212.02 L242.66 212.03 L242.82 211.98 L242.98 212.01 L243.15 211.93 L243.31 211.90 L243.47 211.90 L243.64 212.01 L243.80 211.95 L243.96 211.94 L244.13 211.94 L244.29 212.01 L244.45 212.05 L244.62 211.94 L244.78 211.96 L244.94 212.02 L245.11 211.96 L245.27 212.08 L245.43 211.93 L245.60 211.91 L245.76 211.90 L245.92 212.07 L246.09 211.95 L246.25 211.93 L246.41 212.06 L246.58 211.97 L246.74 212.05 L246.90 212.05 L247.07 212.09 L247.23 212.04 L247.39 211.92 L247.56 211.97 L247.72 211.93 L247.88 211.90 L248.05 212.06 L248.21 211.92 L248.37 211.91 L248.54 211.96 L248.70 212.03 L248.86 212.06 L249.03 212.00 L249.19 212.02 L249.35 212.04 L249.52 211.96 L249.68 211.97 L249.84 212.04 L250.01 212.06 L250.17 211.99 L250.33 211.95 L250.50 211.96 L250.66 211.97 L250.82 211.91 L250.99 211.94 L251.15 212.01 L251.31 211.94 L251.48 211.96 L251.64 212.03 L251.80 212.06 L251.97 212.02 L252.13 211.95 L252.29 211.94 L252.46 212.03 L252.62 211.99 L252.78 212.08 L252.95 211.97 L253.11 212.00 L253.27 211.94 L253.44 211.92 L253.60 212.08 L253.76 211.90 L253.93 212.06 L254.09 211.90 L254.25 211.90 L254.42 212.05 L254.58 212.04 L254.74 212.07 L254.91 211.91 L255.07 211.94 L255.23 211.90 L255.40 211.93 L255.56 212.02 L255.72 211.94 L255.89 212.02 L256.05 212.03 L256.21 212.01 L256.38 211.95 L256.54 212.03 L256.70 211.98 L256.87 211.98 L257.03 211.94 L257.19 212.00 L257.36 212.01 L257.52 211.98 L257.68 212.00 L257.85 211.95 L258.01 212.07 L258.17 212.06 L258.33 212.09 L258.50 212.01 L258.66 211.93 L258.82 211.97 L258.99 211.97 L259.15 211.91 L259.31 211.93 L259.48 212.04 L259.64 212.05 L259.80 211.99 L259.97 212.05 L260.13 211.98 L260.29 212.08 L260.46 212.02 L260.62 211.95 L260.78 212.04 L260.95 212.06 L261.11 211.94 L261.27 212.06 L261.44 211.91 L261.60 211.97 L261.76 211.92 L261.93 211.99 L262.09 212.00 L262.25 212.04 L262.42 212.08 L262.58 211.90 L262.74 212.05 L262.91 212.08 L263.07 211.91 L263.23 211.99 L263.40 211.98 L263.56 211.91 L263.72 211.95 L263.89 212.04 L264.05 212.04 L264.21 211.96 L264.38 211.96 L264.54 212.05 L264.70 212.04 L264.87 211.99 L265.03 212.08 L265.19 211.93 L265.36 211.96 L265.52 212.06 L265.68 211.98 L265.85 211.97 L266.01 212.07 L266.17 212.01 L266.34 211.93 L266.50 212.00 L266.66 211.95 L266.83 212.04 L266.99 211.89 L267.15 211.96 L267.32 211.98 L267.48 212.09 L267.64 212.02 L267.81 212.09 L267.97 212.00 L268.13 212.05 L268.30 212.04 L268.46 212.03 L268.62 212.06 L268.79 212.03 L268.95 211.98 L269.11 212.06 L269.28 211.97 L269.44 211.89 L269.60 211.94 L269.77 211.89 L269.93 212.06 L270.09 211.95 L270.26 212.03 L270.42 211.89 L270.58 211.98 L270.75 211.93 L270.91 211.92 L271.07 212.05 L271.24 212.05 L271.40 211.91 L271.56 211.90 L271.73 211.98 L271.89 212.06 L272.05 212.06 L272.22 211.90 L272.38 211.92 L272.54 211.98 L272.71 211.91 L272.87 211.88 L273.03 212.04 L273.20 211.88 L273.36 211.83 L273.52 211.84 L273.69 211.83 L273.85 211.90 L274.01 211.85 L274.18 211.93 L274.34 211.77 L274.50 211.77 L274.66 211.78 L274.83 211.80 L274.99 211.71 L275.15 211.56 L275.32 211.28 L275.48 211.02 L275.64 210.14 L275.81 208.68 L275.97 206.10 L276.13 203.25 L276.30 201.84 L276.46 203.07 L276.62 206.01 L276.79 208.60 L276.95 210.15 L277.11 211.01 L277.28 211.29 L277.44 211.50 L277.60 211.57 L277.77 211.72 L277.93 211.78 L278.09 211.81 L278.26 211.73 L278.42 211.77 L278.58 211.86 L278.75 211.89 L278.91 211.99 L279.07 211.84 L279.24 211.90 L279.40 211.95 L279.56 212.00 L279.73 211.95 L279.89 211.90 L280.05 212.00 L280.22 212.00 L280.38 211.95 L280.54 211.96 L280.71 212.06 L280.87 212.05 L281.03 211.99 L281.20 211.93 L281.36 211.99 L281.52 212.07 L281.69 212.02 L281.85 212.03 L282.01 211.92 L282.18 212.03 L282.34 211.88 L282.50 212.02 L282.67 212.04 L282.83 212.07 L282.99 211.98 L283.16 211.98 L283.32 211.92 L283.48 211.95 L283.65 211.97 L283.81 212.07 L283.97 211.90 L284.14 212.03 L284.30 212.03 L284.46 212.05 L284.63 211.96 L284.79 211.95 L284.95 212.02 L285.12 212.03 L285.28 212.08 L285.44 211.96 L285.61 211.94 L285.77 212.05 L285.93 212.03 L286.10 211.93 L286.26 211.93 L286.42 212.05 L286.59 211.87 L286.75 211.93 L286.91 211.93 L287.08 212.00 L287.24 211.87 L287.40 211.97 L287.57 211.93 L287.73 211.86 L287.89 211.88 L288.06 212.01 L288.22 212.01 L288.38 211.98 L288.55 211.99 L288.71 211.82 L288.87 211.86 L289.04 211.85 L289.20 211.83 L289.36 211.74 L289.53 211.63 L289.69 211.29 L289.85 210.76 L290.02 209.63 L290.18 208.30 L290.34 207.31 L290.51 207.52 L290.67 208.82 L290.83 210.06 L290.99 210.89 L291.16 211.47 L291.32 211.65 L291.48 211.82 L291.65 211.75 L291.81 211.89 L291.97 211.91 L292.14 211.84 L292.30 212.00 L292.46 212.03 L292.63 211.95 L292.79 211.96 L292.95 212.03 L293.12 211.98 L293.28 211.91 L293.44 211.89 L293.61 211.88 L293.77 211.91 L293.93 212.06 L294.10 212.00 L294.26 211.99 L294.42 212.07 L294.59 211.92 L294.75 212.03 L294.91 211.93 L295.08 211.95 L295.24 212.03 L295.40 212.02 L295.57 212.00 L295.73 212.05 L295.89 212.09 L296.06 212.00 L296.22 212.04 L296.38 212.04 L296.55 211.93 L296.71 211.94 L296.87 212.01 L297.04 212.09 L297.20 211.94 L297.36 212.04 L297.53 212.07 L297.69 211.94 L297.85 211.91 L298.02 212.04 L298.18 211.98 L298.34 211.92 L298.51 211.99 L298.67 212.02 L298.83 212.06 L299.00 212.09 L299.16 211.92 L299.32 211.93 L299.49 212.06 L299.65 211.97 L299.81 212.06 L299.98 211.95 L300.14 212.02 L300.30 211.96 L300.47 211.99 L300.63 212.08 L300.79 211.98 L300.96 211.96 L301.12 212.09 L301.28 212.09 L301.45 212.04 L301.61 211.95 L301.77 211.90 L301.94 212.01 L302.10 211.92 L302.26 211.95 L302.43 212.04 L302.59 212.01 L302.75 211.93 L302.92 212.00 L303.08 212.00 L303.24 211.95 L303.41 212.07 L303.57 212.00 L303.73 211.99 L303.90 211.98 L304.06 211.96 L304.22 212.04 L304.39 212.00 L304.55 212.00 L304.71 212.08 L304.88 211.94 L305.04 211.91 L305.20 211.99 L305.37 212.02 L305.53 212.02 L305.69 212.01 L305.86 212.02 L306.02 212.04 L306.18 211.91 L306.35 212.02 L306.51 212.05 L306.67 211.97 L306.84 212.10 L307.00 212.03 L307.16 211.99 L307.32 211.93 L307.49 212.04 L307.65 212.09 L307.81 211.90 L307.98 212.10 L308.14 212.01 L308.30 212.00 L308.47 211.90 L308.63 212.03 L308.79 212.05 L308.96 212.04 L309.12 212.02 L309.28 212.07 L309.45 211.92 L309.61 212.00 L309.77 211.95 L309.94 212.04 L310.10 211.96 L310.26 211.92 L310.43 212.05 L310.59 211.91 L310.75 212.04 L310.92 211.95 L311.08 211.91 L311.24 212.01 L311.41 211.91 L311.57 212.02 L311.73 212.01 L311.90 211.91 L312.06 211.98 L312.22 212.09 L312.39 212.07 L312.55 211.99 L312.71 212.03 L312.88 212.09 L313.04 211.94 L313.20 212.03 L313.37 211.92 L313.53 212.03 L313.69 212.06 L313.86 212.01 L314.02 211.93 L314.18 211.92 L314.35 211.99 L314.51 212.05 L314.67 211.99 L314.84 212.05 L315.00 212.03 L315.16 212.10 L315.33 212.09 L315.49 211.91" stroke="#dc7c86" style="mix-blend-mode:multiply"/>
<path d="M54.21 169.05 L54.37 168.99 L54.54 169.03 L54.70 168.98 L54.86 168.97 L55.03 169.09 L55.19 169.10 L55.35 168.93 L55.52 169.05 L55.68 169.05 L55.84 168.90 L56.01 169.01 L56.17 168.93 L56.33 169.00 L56.50 168.97 L56.66 169.07 L56.82 168.97 L56.99 168.93 L57.15 168.99 L57.31 168.95 L57.48 168.96 L57.64 169.09 L57.80 168.95 L57.97 168.98 L58.13 169.04 L58.29 169.09 L58.46 168.93 L58.62 169.00 L58.78 168.96 L58.95 168.92 L59.11 168.96 L59.27 168.91 L59.44 169.02 L59.60 168.94 L59.76 169.01 L59.93 168.91 L60.09 168.92 L60.25 169.08 L60.42 169.07 L60.58 169.06 L60.74 168.91 L60.91 169.01 L61.07 168.97 L61.23 169.04 L61.40 169.00 L61.56 169.02 L61.72 169.03 L61.89 168.98 L62.05 168.98 L62.21 168.92 L62.38 168.96 L62.54 168.91 L62.70 168.93 L62.86 168.90 L63.03 168.96 L63.19 169.07 L63.35 168.93 L63.52 168.91 L63.68 168.92 L63.84 168.99 L64.01 168.96 L64.17 169.06 L64.33 168.93 L64.50 168.98 L64.66 169.04 L64.82 169.09 L64.99 168.93 L65.15 168.90 L65.31 169.08 L65.48 168.94 L65.64 169.02 L65.80 169.07 L65.97 169.04 L66.13 168.95 L66.29 168.92 L66.46 169.09 L66.62 168.98 L66.78 169.09 L66.95 168.96 L67.11 169.03 L67.27 168.92 L67.44 168.90 L67.60 169.00 L67.76 168.90 L67.93 169.04 L68.09 169.08 L68.25 168.98 L68.42 169.09 L68.58 169.06 L68.74 169.02 L68.91 168.98 L69.07 169.07 L69.23 169.09 L69.40 168.93 L69.56 169.04 L69.72 168.91 L69.89 168.92 L70.05 169.02 L70.21 169.01 L70.38 168.99 L70.54 168.97 L70.70 168.98 L70.87 168.99 L71.03 168.97 L71.19 168.91 L71.36 169.00 L71.52 169.01 L71.68 168.95 L71.85 169.05 L72.01 169.04 L72.17 168.90 L72.34 168.99 L72.50 168.99 L72.66 169.10 L72.83 169.02 L72.99 168.98 L73.15 169.09 L73.32 168.98 L73.48 168.97 L73.64 169.09 L73.81 168.97 L73.97 169.01 L74.13 168.96 L74.30 169.03 L74.46 168.96 L74.62 168.95 L74.79 169.09 L74.95 169.09 L75.11 168.96 L75.28 168.91 L75.44 169.05 L75.60 169.01 L75.77 168.98 L75.93 169.03 L76.09 169.03 L76.26 169.04 L76.42 169.02 L76.58 168.98 L76.75 169.04 L76.91 169.02 L77.07 168.94 L77.24 169.09 L77.40 168.98 L77.56 168.95 L77.73 169.04 L77.89 169.05 L78.05 168.94 L78.22 169.05 L78.38 169.06 L78.54 169.01 L78.71 168.96 L78.87 169.08 L79.03 169.03 L79.19 169.03 L79.36 168.93 L79.52 169.01 L79.68 168.93 L79.85 169.06 L80.01 169.03 L80.17 168.97 L80.34 168.92 L80.50 169.01 L80.66 169.05 L80.83 169.07 L80.99 168.99 L81.15 169.06 L81.32 168.94 L81.48 168.93 L81.64 169.06 L81.81 169.04 L81.97 168.94 L82.13 168.97 L82.30 168.94 L82.46 169.03 L82.62 169.07 L82.79 169.04 L82.95 168.94 L83.11 169.04 L83.28 169.03 L83.44 169.01 L83.60 169.01 L83.77 169.02 L83.93 168.91 L84.09 169.07 L84.26 169.10 L84.42 168.91 L84.58 168.92 L84.75 168.90 L84.91 169.01 L85.07 168.91 L85.24 168.91 L85.40 169.05 L85.56 168.95 L85.73 168.93 L85.89 168.97 L86.05 168.99 L86.22 169.04 L86.38 169.03 L86.54 169.05 L86.71 169.08 L86.87 168.98 L87.03 169.04 L87.20 168.94 L87.36 169.09 L87.52 168.92 L87.69 168.96 L87.85 168.91 L88.01 168.92 L88.18 168.92 L88.34 168.98 L88.50 169.10 L88.67 168.95 L88.83 169.06 L88.99 169.04 L89.16 168.97 L89.32 168.99 L89.48 169.02 L89.65 168.91 L89.81 168.98 L89.97 169.03 L90.14 169.05 L90.30 168.93 L90.46 169.00 L90.63 168.94 L90.79 169.03 L90.95 169.06 L91.12 168.99 L91.28 168.93 L91.44 169.06 L91.61 168.94 L91.77 168.91 L91.93 168.94 L92.10 168.93 L92.26 169.10 L92.42 168.97 L92.59 168.92 L92.75 169.09 L92.91 169.04 L93.08 169.04 L93.24 168.99 L93.40 169.01 L93.57 169.00 L93.73 168.94 L93.89 169.10 L94.06 169.09 L94.22 169.07 L94.38 169.07 L94.55 169.08 L94.71 168.90 L94.87 168.93 L95.04 169.08 L95.20 169.00 L95.36 169.03 L95.52 169.03 L95.69 169.03 L95.85 168.97 L96.01 168.98 L96.18 169.02 L96.34 169.06 L96.50 169.03 L96.67 169.07 L96.83 168.99 L96.99 168.95 L97.16 169.02 L97.32 169.08 L97.48 169.06 L97.65 169.02 L97.81 168.98 L97.97 168.94 L98.14 169.02 L98.30 168.94 L98.46 168.97 L98.63 169.01 L98.79 169.02 L98.95 169.00 L99.12 168.96 L99.28 169.01 L99.44 168.96 L99.61 169.00 L99.77 169.05 L99.93 168.99 L100.10 168.96 L100.26 169.08 L100.42 169.01 L100.59 169.01 L100.75 168.92 L100.91 168.91 L101.08 169.02 L101.24 168.92 L101.40 168.94 L101.57 169.04 L101.73 169.00 L101.89 169.07 L102.06 168.93 L102.22 168.96 L102.38 168.92 L102.55 168.94 L102.71 168.96 L102.87 168.95 L103.04 168.98 L103.20 169.07 L103.36 168.98 L103.53 169.09 L103.69 169.07 L103.85 168.94 L104.02 169.08 L104.18 169.08 L104.34 169.07 L104.51 168.92 L104.67 169.06 L104.83 169.09 L105.00 168.92 L105.16 169.07 L105.32 168.92 L105.49 168.96 L105.65 168.92 L105.81 168.90 L105.98 168.98 L106.14 168.93 L106.30 169.08 L106.47 168.94 L106.63 168.99 L106.79 168.95 L106.96 169.07 L107.12 168.94 L107.28 168.90 L107.45 169.08 L107.61 169.02 L107.77 168.98 L107.94 168.92 L108.10 169.04 L108.26 169.05 L108.43 169.04 L108.59 168.96 L108.75 168.93 L108.92 169.01 L109.08 169.01 L109.24 169.00 L109.41 169.01 L109.57 169.00 L109.73 169.06 L109.90 168.98 L110.06 168.88 L110.22 168.99 L110.39 168.92 L110.55 169.04 L110.71 168.93 L110.88 168.91 L111.04 168.93 L111.20 168.96 L111.37 168.96 L111.53 168.92 L111.69 168.87 L111.85 169.01 L112.02 169.01 L112.18 168.87 L112.34 168.82 L112.51 168.89 L112.67 168.88 L112.83 168.80 L113.00 168.87 L113.16 168.79 L113.32 168.71 L113.49 168.44 L113.65 168.05 L113.81 167.18 L113.98 165.69 L114.14 164.11 L114.30 163.54 L114.47 164.23 L114.63 165.83 L114.79 167.12 L114.96 168.03 L115.12 168.51 L115.28 168.71 L115.45 168.84 L115.61 168.81 L115.77 168.86 L115.94 168.93 L116.10 168.92 L116.26 168.94 L116.43 168.86 L116.59 169.00 L116.75 168.84 L116.92 168.95 L117.08 168.93 L117.24 168.96 L117.41 168.89 L117.57 168.90 L117.73 168.95 L117.90 168.97 L118.06 168.92 L118.22 168.90 L118.39 168.99 L118.55 168.93 L118.71 168.88 L118.88 168.98 L119.04 169.03 L119.20 169.03 L119.37 168.94 L119.53 168.95 L119.69 168.89 L119.86 168.91 L120.02 169.03 L120.18 169.04 L120.35 169.03 L120.51 169.05 L120.67 168.94 L120.84 168.91 L121.00 168.90 L121.16 169.03 L121.33 168.91 L121.49 169.02 L121.65 169.00 L121.82 168.94 L121.98 169.07 L122.14 169.07 L122.31 168.92 L122.47 169.03 L122.63 169.02 L122.80 168.97 L122.96 168.95 L123.12 169.09 L123.29 169.02 L123.45 169.00 L123.61 168.99 L123.78 169.04 L123.94 168.97 L124.10 168.90 L124.27 169.01 L124.43 168.98 L124.59 169.06 L124.76 169.03 L124.92 168.95 L125.08 169.06 L125.25 168.91 L125.41 168.90 L125.57 169.07 L125.74 168.90 L125.90 169.01 L126.06 168.93 L126.23 168.93 L126.39 169.03 L126.55 168.95 L126.72 168.95 L126.88 168.92 L127.04 169.03 L127.21 168.93 L127.37 168.89 L127.53 168.95 L127.70 168.98 L127.86 169.06 L128.02 168.99 L128.18 169.01 L128.35 168.94 L128.51 168.95 L128.67 168.97 L128.84 169.05 L129.00 168.95 L129.16 168.96 L129.33 169.05 L129.49 168.90 L129.65 168.95 L129.82 169.06 L129.98 168.90 L130.14 169.05 L130.31 169.01 L130.47 168.94 L130.63 168.96 L130.80 168.97 L130.96 168.95 L131.12 168.99 L131.29 169.02 L131.45 169.04 L131.61 169.06 L131.78 168.93 L131.94 168.93 L132.10 168.97 L132.27 168.93 L132.43 169.00 L132.59 169.02 L132.76 169.00 L132.92 168.90 L133.08 169.07 L133.25 168.97 L133.41 169.02 L133.57 168.92 L133.74 169.00 L133.90 169.00 L134.06 168.99 L134.23 168.96 L134.39 168.91 L134.55 169.00 L134.72 168.90 L134.88 169.04 L135.04 169.01 L135.21 169.05 L135.37 169.04 L135.53 168.91 L135.70 168.92 L135.86 169.02 L136.02 169.02 L136.19 168.98 L136.35 168.91 L136.51 168.89 L136.68 168.91 L136.84 168.94 L137.00 169.02 L137.17 168.97 L137.33 169.01 L137.49 168.94 L137.66 168.93 L137.82 169.00 L137.98 168.99 L138.15 168.88 L138.31 169.03 L138.47 168.87 L138.64 168.85 L138.80 168.84 L138.96 168.95 L139.13 168.91 L139.29 168.90 L139.45 168.89 L139.62 168.82 L139.78 168.87 L139.94 168.95 L140.11 168.83 L140.27 168.90 L140.43 168.87 L140.60 168.84 L140.76 168.98 L140.92 168.82 L141.09 168.83 L141.25 168.86 L141.41 168.85 L141.58 168.85 L141.74 168.89 L141.90 168.82 L142.07 168.90 L142.23 168.80 L142.39 168.75 L142.56 168.78 L142.72 168.74 L142.88 168.64 L143.05 168.63 L143.21 168.76 L143.37 168.60 L143.54 168.60 L143.70 168.67 L143.86 168.57 L144.03 168.54 L144.19 168.52 L144.35 168.35 L144.51 168.19 L144.68 168.21 L144.84 167.98 L145.00 167.86 L145.17 167.78 L145.33 167.39 L145.49 167.12 L145.66 166.62 L145.82 166.08 L145.98 165.24 L146.15 164.08 L146.31 161.38 L146.47 148.45 L146.64 82.93 L146.80 45.80 L146.96 45.80 L147.13 45.80 L147.29 45.80 L147.45 130.79 L147.62 158.51 L147.78 163.30 L147.94 164.88 L148.11 165.79 L148.27 166.44 L148.43 166.96 L148.60 167.35 L148.76 167.58 L148.92 167.86 L149.09 168.00 L149.25 168.07 L149.41 168.25 L149.58 168.39 L149.74 168.32 L149.90 168.42 L150.07 168.54 L150.23 168.59 L150.39 168.60 L150.56 168.62 L150.72 168.72 L150.88 168.79 L151.05 168.78 L151.21 168.68 L151.37 168.83 L151.54 168.78 L151.70 168.85 L151.86 168.86 L152.03 168.88 L152.19 168.85 L152.35 168.90 L152.52 168.94 L152.68 168.93 L152.84 168.93 L153.01 168.87 L153.17 168.96 L153.33 168.98 L153.50 168.90 L153.66 168.91 L153.82 168.86 L153.99 168.99 L154.15 168.92 L154.31 168.93 L154.48 169.01 L154.64 168.82 L154.80 168.97 L154.97 169.00 L155.13 168.93 L155.29 168.99 L155.46 168.90 L155.62 168.96 L155.78 169.01 L155.95 169.02 L156.11 168.89 L156.27 168.98 L156.44 168.88 L156.60 168.95 L156.76 168.86 L156.93 168.98 L157.09 169.00 L157.25 168.99 L157.42 168.88 L157.58 168.92 L157.74 168.98 L157.91 169.03 L158.07 168.91 L158.23 168.86 L158.40 168.93 L158.56 169.05 L158.72 169.05 L158.89 169.04 L159.05 169.02 L159.21 169.05 L159.38 169.04 L159.54 168.92 L159.70 168.87 L159.87 169.01 L160.03 168.86 L160.19 168.96 L160.35 168.89 L160.52 168.87 L160.68 168.86 L160.84 169.05 L161.01 168.99 L161.17 168.93 L161.33 168.86 L161.50 169.03 L161.66 168.99 L161.82 168.88 L161.99 169.02 L162.15 168.96 L162.31 168.97 L162.48 168.90 L162.64 168.85 L162.80 169.00 L162.97 168.88 L163.13 168.88 L163.29 168.85 L163.46 168.90 L163.62 168.82 L163.78 168.93 L163.95 168.91 L164.11 168.93 L164.27 168.81 L164.44 168.86 L164.60 168.88 L164.76 168.88 L164.93 168.74 L165.09 168.73 L165.25 168.67 L165.42 168.68 L165.58 168.59 L165.74 168.55 L165.91 168.28 L166.07 168.14 L166.23 167.45 L166.40 166.06 L166.56 163.55 L166.72 160.01 L166.89 156.54 L167.05 155.70 L167.21 158.43 L167.38 162.20 L167.54 165.23 L167.70 167.05 L167.87 167.79 L168.03 168.19 L168.19 168.46 L168.36 168.58 L168.52 168.72 L168.68 168.72 L168.85 168.65 L169.01 168.86 L169.17 168.79 L169.34 168.91 L169.50 168.93 L169.66 168.84 L169.83 168.93 L169.99 168.98 L170.15 168.97 L170.32 168.88 L170.48 168.90 L170.64 169.02 L170.81 168.98 L170.97 168.83 L171.13 168.99 L171.30 168.92 L171.46 168.95 L171.62 168.88 L171.79 168.92 L171.95 168.89 L172.11 168.94 L172.28 169.01 L172.44 169.01 L172.60 169.03 L172.77 168.88 L172.93 169.02 L173.09 169.04 L173.26 168.85 L173.42 169.00 L173.58 168.85 L173.75 169.01 L173.91 168.92 L174.07 168.96 L174.24 168.83 L174.40 168.85 L174.56 168.81 L174.73 168.74 L174.89 168.61 L175.05 168.47 L175.22 167.94 L175.38 167.21 L175.54 166.44 L175.71 165.92 L175.87 166.39 L176.03 167.19 L176.20 168.06 L176.36 168.46 L176.52 168.70 L176.68 168.76 L176.85 168.94 L177.01 168.91 L177.17 168.91 L177.34 169.00 L177.50 168.92 L177.66 168.89 L177.83 168.96 L177.99 168.92 L178.15 168.94 L178.32 169.02 L178.48 168.99 L178.64 168.87 L178.81 169.00 L178.97 168.98 L179.13 169.06 L179.30 169.03 L179.46 169.04 L179.62 168.89 L179.79 168.93 L179.95 168.90 L180.11 168.88 L180.28 168.96 L180.44 168.90 L180.60 168.98 L180.77 169.00 L180.93 168.89 L181.09 168.90 L181.26 168.90 L181.42 168.99 L181.58 168.93 L181.75 169.00 L181.91 168.89 L182.07 168.90 L182.24 169.03 L182.40 168.90 L182.56 169.05 L182.73 169.07 L182.89 168.94 L183.05 169.03 L183.22 168.99 L183.38 168.96 L183.54 169.08 L183.71 168.94 L183.87 169.03 L184.03 169.00 L184.20 169.02 L184.36 168.94 L184.52 168.94 L184.69 169.03 L184.85 169.07 L185.01 169.03 L185.18 169.01 L185.34 169.08 L185.50 169.06 L185.67 168.94 L185.83 168.95 L185.99 168.90 L186.16 168.90 L186.32 168.92 L186.48 169.02 L186.65 169.06 L186.81 169.03 L186.97 169.00 L187.14 168.99 L187.30 168.98 L187.46 169.02 L187.63 168.92 L187.79 169.04 L187.95 169.00 L188.12 168.92 L188.28 168.93 L188.44 169.03 L188.61 169.05 L188.77 168.93 L188.93 169.09 L189.10 169.07 L189.26 168.99 L189.42 168.99 L189.59 169.06 L189.75 169.08 L189.91 169.05 L190.08 168.94 L190.24 169.00 L190.40 168.90 L190.57 168.94 L190.73 168.90 L190.89 169.09 L191.06 169.06 L191.22 169.09 L191.38 169.01 L191.55 169.03 L191.71 169.08 L191.87 168.99 L192.04 169.08 L192.20 169.03 L192.36 169.05 L192.53 168.93 L192.69 169.01 L192.85 169.04 L193.01 169.09 L193.18 169.01 L193.34 168.97 L193.50 168.96 L193.67 168.91 L193.83 168.93 L193.99 169.05 L194.16 169.07 L194.32 168.94 L194.48 168.94 L194.65 168.99 L194.81 168.93 L194.97 168.98 L195.14 169.04 L195.30 169.06 L195.46 169.09 L195.63 168.97 L195.79 168.92 L195.95 168.91 L196.12 169.00 L196.28 168.96 L196.44 168.91 L196.61 168.93 L196.77 168.97 L196.93 169.01 L197.10 168.99 L197.26 169.06 L197.42 169.06 L197.59 168.96 L197.75 168.90 L197.91 168.98 L198.08 169.01 L198.24 169.02 L198.40 169.00 L198.57 168.93 L198.73 169.00 L198.89 168.90 L199.06 169.06 L199.22 169.03 L199.38 168.99 L199.55 169.01 L199.71 168.92 L199.87 168.93 L200.04 168.91 L200.20 168.97 L200.36 169.08 L200.53 168.98 L200.69 168.98 L200.85 168.99 L201.02 169.03 L201.18 168.95 L201.34 168.90 L201.51 169.06 L201.67 168.95 L201.83 169.01 L202.00 168.98 L202.16 168.90 L202.32 168.88 L202.49 168.94 L202.65 169.03 L202.81 168.87 L202.98 169.01 L203.14 168.96 L203.30 168.85 L203.47 168.90 L203.63 168.81 L203.79 168.47 L203.96 168.13 L204.12 167.86 L204.28 167.62 L204.45 167.79 L204.61 168.21 L204.77 168.55 L204.94 168.64 L205.10 168.94 L205.26 168.96 L205.43 168.99 L205.59 169.03 L205.75 168.95 L205.92 168.92 L206.08 168.90 L206.24 168.95 L206.41 168.91 L206.57 169.08 L206.73 169.03 L206.90 168.89 L207.06 169.07 L207.22 169.03 L207.39 168.99 L207.55 169.04 L207.71 168.98 L207.88 169.08 L208.04 169.04 L208.20 168.90 L208.37 169.06 L208.53 168.91 L208.69 169.06 L208.86 168.89 L209.02 168.96 L209.18 168.96 L209.34 169.07 L209.51 169.08 L209.67 168.94 L209.83 169.06 L210.00 169.06 L210.16 168.93 L210.32 168.92 L210.49 169.09 L210.65 168.90 L210.81 168.99 L210.98 169.02 L211.14 169.07 L211.30 169.02 L211.47 168.90 L211.63 169.04 L211.79 169.07 L211.96 169.07 L212.12 169.07 L212.28 169.03 L212.45 168.91 L212.61 169.08 L212.77 169.06 L212.94 168.91 L213.10 168.90 L213.26 168.90 L213.43 169.05 L213.59 169.03 L213.75 168.91 L213.92 169.00 L214.08 168.96 L214.24 169.03 L214.41 169.09 L214.57 169.03 L214.73 168.95 L214.90 168.94 L215.06 168.98 L215.22 169.00 L215.39 168.99 L215.55 169.01 L215.71 168.99 L215.88 168.93 L216.04 169.06 L216.20 168.98 L216.37 168.91 L216.53 168.93 L216.69 169.06 L216.86 168.90 L217.02 168.93 L217.18 169.06 L217.35 169.04 L217.51 169.06 L217.67 169.09 L217.84 168.90 L218.00 169.01 L218.16 168.92 L218.33 169.07 L218.49 169.09 L218.65 168.92 L218.82 168.94 L218.98 168.90 L219.14 168.96 L219.31 168.99 L219.47 168.94 L219.63 169.08 L219.80 168.99 L219.96 169.01 L220.12 169.07 L220.29 168.98 L220.45 169.03 L220.61 168.99 L220.78 169.02 L220.94 169.03 L221.10 169.02 L221.27 168.98 L221.43 168.90 L221.59 168.91 L221.76 168.92 L221.92 168.93 L222.08 169.04 L222.25 168.90 L222.41 169.04 L222.57 169.07 L222.74 168.99 L222.90 168.95 L223.06 169.03 L223.23 168.97 L223.39 169.04 L223.55 168.90 L223.72 169.00 L223.88 169.00 L224.04 168.99 L224.21 168.92 L224.37 168.90 L224.53 168.99 L224.70 169.01 L224.86 168.97 L225.02 169.08 L225.19 169.01 L225.35 168.92 L225.51 168.94 L225.67 169.08 L225.84 168.92 L226.00 169.01 L226.16 168.89 L226.33 169.02 L226.49 169.05 L226.65 168.98 L226.82 168.91 L226.98 169.00 L227.14 168.92 L227.31 168.95 L227.47 169.02 L227.63 169.03 L227.80 168.99 L227.96 169.01 L228.12 169.01 L228.29 168.95 L228.45 168.91 L228.61 168.97 L228.78 169.05 L228.94 169.04 L229.10 169.00 L229.27 168.95 L229.43 169.05 L229.59 169.06 L229.76 169.01 L229.92 169.01 L230.08 169.06 L230.25 168.95 L230.41 168.87 L230.57 168.95 L230.74 168.90 L230.90 168.88 L231.06 168.87 L231.23 168.84 L231.39 168.93 L231.55 168.86 L231.72 168.96 L231.88 168.78 L232.04 168.85 L232.21 168.79 L232.37 168.64 L232.53 168.66 L232.70 168.45 L232.86 167.82 L233.02 166.87 L233.19 165.42 L233.35 163.78 L233.51 163.03 L233.68 164.02 L233.84 165.55 L234.00 167.16 L234.17 168.04 L234.33 168.46 L234.49 168.64 L234.66 168.75 L234.82 168.77 L234.98 168.80 L235.15 168.88 L235.31 168.97 L235.47 168.81 L235.64 168.88 L235.80 169.01 L235.96 168.95 L236.13 168.89 L236.29 168.85 L236.45 169.04 L236.62 169.06 L236.78 168.97 L236.94 168.98 L237.11 168.89 L237.27 168.91 L237.43 169.01 L237.60 168.99 L237.76 168.96 L237.92 168.90 L238.09 169.04 L238.25 169.00 L238.41 169.06 L238.58 168.96 L238.74 169.08 L238.90 168.90 L239.07 168.98 L239.23 168.97 L239.39 169.07 L239.56 169.04 L239.72 168.99 L239.88 168.92 L240.05 168.98 L240.21 169.03 L240.37 168.89 L240.54 168.96 L240.70 168.99 L240.86 169.05 L241.03 169.03 L241.19 168.91 L241.35 169.07 L241.52 168.99 L241.68 168.97 L241.84 169.02 L242.00 168.94 L242.17 168.91 L242.33 168.92 L242.49 168.95 L242.66 169.05 L242.82 169.08 L242.98 169.01 L243.15 169.03 L243.31 169.06 L243.47 168.92 L243.64 169.05 L243.80 168.93 L243.96 168.91 L244.13 169.07 L244.29 168.91 L244.45 169.02 L244.62 169.05 L244.78 169.06 L244.94 169.09 L245.11 169.00 L245.27 169.02 L245.43 168.93 L245.60 168.93 L245.76 169.08 L245.92 169.02 L246.09 169.02 L246.25 169.06 L246.41 169.05 L246.58 169.04 L246.74 168.96 L246.90 169.03 L247.07 169.07 L247.23 169.05 L247.39 169.01 L247.56 168.98 L247.72 169.05 L247.88 168.96 L248.05 169.05 L248.21 168.96 L248.37 168.97 L248.54 169.06 L248.70 168.95 L248.86 169.02 L249.03 168.99 L249.19 168.98 L249.35 168.97 L249.52 169.01 L249.68 169.09 L249.84 168.94 L250.01 168.93 L250.17 169.00 L250.33 168.98 L250.50 169.04 L250.66 168.92 L250.82 168.96 L250.99 169.05 L251.15 168.93 L251.31 168.90 L251.48 169.03 L251.64 168.90 L251.80 169.00 L251.97 169.06 L252.13 168.95 L252.29 169.03 L252.46 168.95 L252.62 168.98 L252.78 169.08 L252.95 168.99 L253.11 168.93 L253.27 169.00 L253.44 168.99 L253.60 168.92 L253.76 169.01 L253.93 169.00 L254.09 168.98 L254.25 168.93 L254.42 169.06 L254.58 169.08 L254.74 168.94 L254.91 168.99 L255.07 169.04 L255.23 168.92 L255.40 168.92 L255.56 168.99 L255.72 168.90 L255.89 168.93 L256.05 168.95 L256.21 169.04 L256.38 169.09 L256.54 168.96 L256.70 168.95 L256.87 169.03 L257.03 169.00 L257.19 168.98 L257.36 169.05 L257.52 168.96 L257.68 168.98 L257.85 169.02 L258.01 169.08 L258.17 168.99 L258.33 169.03 L258.50 168.95 L258.66 169.06 L258.82 169.02 L258.99 169.06 L259.15 169.02 L259.31 168.98 L259.48 169.08 L259.64 169.09 L259.80 169.00 L259.97 169.06 L260.13 169.00 L260.29 169.06 L260.46 169.08 L260.62 168.99 L260.78 168.91 L260.95 168.92 L261.11 168.99 L261.27 169.02 L261.44 169.08 L261.60 169.04 L261.76 169.03 L261.93 168.91 L262.09 169.07 L262.25 168.91 L262.42 169.00 L262.58 169.01 L262.74 169.04 L262.91 168.90 L263.07 169.06 L263.23 168.98 L263.40 168.99 L263.56 169.06 L263.72 169.05 L263.89 168.90 L264.05 168.94 L264.21 168.95 L264.38 168.91 L264.54 169.08 L264.70 168.95 L264.87 168.94 L265.03 169.05 L265.19 169.00 L265.36 168.90 L265.52 169.03 L265.68 168.94 L265.85 169.06 L266.01 168.96 L266.17 169.04 L266.34 168.99 L266.50 169.02 L266.66 168.92 L266.83 168.94 L266.99 168.99 L267.15 168.95 L267.32 169.01 L267.48 168.93 L267.64 169.04 L267.81 168.98 L267.97 168.97 L268.13 169.01 L268.30 169.08 L268.46 169.06 L268.62 168.96 L268.79 169.05 L268.95 168.94 L269.11 168.99 L269.28 168.90 L269.44 168.92 L269.60 168.94 L269.77 169.01 L269.93 169.08 L270.09 168.97 L270.26 168.93 L270.42 168.90 L270.58 169.04 L270.75 169.05 L270.91 168.88 L271.07 168.93 L271.24 168.98 L271.40 168.93 L271.56 169.04 L271.73 168.96 L271.89 168.94 L272.05 168.95 L272.22 169.03 L272.38 169.03 L272.54 168.93 L272.71 168.88 L272.87 169.02 L273.03 169.04 L273.20 169.02 L273.36 168.88 L273.52 168.95 L273.69 168.92 L273.85 168.81 L274.01 168.87 L274.18 168.92 L274.34 168.81 L274.50 168.93 L274.66 168.84 L274.83 168.71 L274.99 168.75 L275.15 168.69 L275.32 168.44 L275.48 168.16 L275.64 167.33 L275.81 166.09 L275.97 163.69 L276.13 161.25 L276.30 159.94 L276.46 161.19 L276.62 163.66 L276.79 166.00 L276.95 167.46 L277.11 168.13 L277.28 168.38 L277.44 168.62 L277.60 168.74 L277.77 168.76 L277.93 168.87 L278.09 168.86 L278.26 168.84 L278.42 168.86 L278.58 168.87 L278.75 168.95 L278.91 169.01 L279.07 169.02 L279.24 168.96 L279.40 169.00 L279.56 168.93 L279.73 169.00 L279.89 168.90 L280.05 168.94 L280.22 168.93 L280.38 168.92 L280.54 168.96 L280.71 168.98 L280.87 169.01 L281.03 169.06 L281.20 168.92 L281.36 168.98 L281.52 169.06 L281.69 168.89 L281.85 168.96 L282.01 168.96 L282.18 168.99 L282.34 169.06 L282.50 168.88 L282.67 169.05 L282.83 169.01 L282.99 168.89 L283.16 169.06 L283.32 168.99 L283.48 168.99 L283.65 169.04 L283.81 168.90 L283.97 169.01 L284.14 169.09 L284.30 168.99 L284.46 169.09 L284.63 168.95 L284.79 168.92 L284.95 168.91 L285.12 169.08 L285.28 168.95 L285.44 169.03 L285.61 169.00 L285.77 169.03 L285.93 169.03 L286.10 169.06 L286.26 168.96 L286.42 169.07 L286.59 168.90 L286.75 169.08 L286.91 168.90 L287.08 169.05 L287.24 169.07 L287.40 168.94 L287.57 168.98 L287.73 168.93 L287.89 168.98 L288.06 168.96 L288.22 169.07 L288.38 168.95 L288.55 168.98 L288.71 168.88 L288.87 169.07 L289.04 169.05 L289.20 168.92 L289.36 168.86 L289.53 168.93 L289.69 168.81 L289.85 168.72 L290.02 168.53 L290.18 168.23 L290.34 167.99 L290.51 168.15 L290.67 168.35 L290.83 168.53 L290.99 168.82 L291.16 168.88 L291.32 168.97 L291.48 168.98 L291.65 168.93 L291.81 168.92 L291.97 168.88 L292.14 168.98 L292.30 169.04 L292.46 169.02 L292.63 169.07 L292.79 169.04 L292.95 168.97 L293.12 168.97 L293.28 169.04 L293.44 169.05 L293.61 169.07 L293.77 169.06 L293.93 168.99 L294.10 169.04 L294.26 168.92 L294.42 168.98 L294.59 169.03 L294.75 169.01 L294.91 169.09 L295.08 168.95 L295.24 168.94 L295.40 169.02 L295.57 168.95 L295.73 169.04 L295.89 169.05 L296.06 169.05 L296.22 169.06 L296.38 168.98 L296.55 168.97 L296.71 168.95 L296.87 169.08 L297.04 168.94 L297.20 169.00 L297.36 169.02 L297.53 169.00 L297.69 169.01 L297.85 169.06 L298.02 169.02 L298.18 168.97 L298.34 168.95 L298.51 168.91 L298.67 169.06 L298.83 168.92 L299.00 168.94 L299.16 168.95 L299.32 168.90 L299.49 169.07 L299.65 168.94 L299.81 168.92 L299.98 169.07 L300.14 168.98 L300.30 168.91 L300.47 169.04 L300.63 168.93 L300.79 168.92 L300.96 169.01 L301.12 169.07 L301.28 169.05 L301.45 168.93 L301.61 169.01 L301.77 169.03 L301.94 169.01 L302.10 168.91 L302.26 169.05 L302.43 169.09 L302.59 168.91 L302.75 169.03 L302.92 169.02 L303.08 168.90 L303.24 169.04 L303.41 169.08 L303.57 168.92 L303.73 169.05 L303.90 169.05 L304.06 168.91 L304.22 169.05 L304.39 168.92 L304.55 169.03 L304.71 169.04 L304.88 169.05 L305.04 168.99 L305.20 168.99 L305.37 169.02 L305.53 169.00 L305.69 169.04 L305.86 168.93 L306.02 168.91 L306.18 168.95 L306.35 168.93 L306.51 169.08 L306.67 169.05 L306.84 169.06 L307.00 169.07 L307.16 168.90 L307.32 168.92 L307.49 168.91 L307.65 168.99 L307.81 169.07 L307.98 169.01 L308.14 169.08 L308.30 168.91 L308.47 169.04 L308.63 169.04 L308.79 168.90 L308.96 169.05 L309.12 168.91 L309.28 169.03 L309.45 168.96 L309.61 169.07 L309.77 168.90 L309.94 169.00 L310.10 169.00 L310.26 168.92 L310.43 168.88 L310.59 168.87 L310.75 168.78 L310.92 168.60 L311.08 168.71 L311.24 168.63 L311.41 168.85 L311.57 168.97 L311.73 168.98 L311.90 169.05 L312.06 169.01 L312.22 168.97 L312.39 169.01 L312.55 169.02 L312.71 169.03 L312.88 168.99 L313.04 168.94 L313.20 169.01 L313.37 168.94 L313.53 169.00 L313.69 169.07 L313.86 169.06 L314.02 168.93 L314.18 169.00 L314.35 169.02 L314.51 168.99 L314.67 168.93 L314.84 169.02 L315.00 169.03 L315.16 169.02 L315.33 169.10 L315.49 168.99" stroke="#7a91d8" style="mix-blend-mode:multiply"/>
</g>
<g stroke-width="1.7" fill="none">
<path d="M147.0 46.2 V121.6" stroke="#9db0e3"/>
<path d="M147.0 126 V162" stroke="#8a5f9e"/>
<path d="M147.0 172 V205" stroke="#c45c68"/>
<path d="M147.0 215 V249" stroke="#767676"/>
</g>
<rect x="140" y="121.6" width="14" height="4.4" fill="#fff"/>
<g stroke="#454545" stroke-width="1.6" fill="none" stroke-linejoin="round">
<path d="M21.9 121 V1.9 H348 V121"/>
<path d="M21.9 126 V263.8 H348 V126"/>
<path d="M86.87 263.8 V258.9"/>
<path d="M152.19 263.8 V258.9"/>
<path d="M217.51 263.8 V258.9"/>
<path d="M282.83 263.8 V258.9"/>
</g>
<g stroke="#222" stroke-width="1.2">
<path d="M18.3 124.5 L24.9 119.2"/><path d="M18.8 128.7 L24.9 123.6"/>
<path d="M344.6 124.6 L351.2 119.3"/><path d="M345.0 128.8 L351.2 123.9"/>
</g>
<g font-family="Liberation Serif" fill="#000" stroke="#000" stroke-width="0.1" text-rendering="geometricPrecision">
<text x="21.55" y="277.5" font-size="11.6" text-anchor="middle">0</text>
<text x="86.87" y="277.5" font-size="11.6" text-anchor="middle">20</text>
<text x="152.19" y="277.5" font-size="11.6" text-anchor="middle">40</text>
<text x="217.51" y="277.5" font-size="11.6" text-anchor="middle">60</text>
<text x="282.83" y="277.5" font-size="11.6" text-anchor="middle">80</text>
<text x="348.35" y="277.5" font-size="11.6" text-anchor="middle">100</text>
<text x="154" y="294.2" font-size="13.75">2θ /degree</text>
<text x="0" y="0" font-size="13.6" text-anchor="middle" transform="translate(10.6 124.4) rotate(-90)">Intensity(a.u.)</text>
<text x="61.5" y="23.9" font-size="13.6">0% Ce</text>
<text x="61.5" y="40.6" font-size="13.6">0.1% Ce</text>
<text x="61.5" y="56.9" font-size="13.6">0.2% Ce</text>
<text x="288.6" y="34.3" font-size="13.4">Al</text>
<text x="288.9" y="52.6" font-size="13.4">Si</text>
<g fill="none" stroke="#3c3c3c" stroke-linecap="butt"><path d="M276.65 25.00 L280.35 34.00" stroke-width="1.21"/><path d="M284.05 25.00 L280.35 34.00" stroke-width="0.79"/><path d="M277.83 27.88 H282.87" stroke-width="0.79"/><path d="M276.15 25.30 H277.15 M283.55 25.30 H284.55" stroke-width="0.73"/></g>
<circle cx="278.70" cy="49.10" r="2.60" fill="#000"/>
<g fill="none" stroke="#3c3c3c" stroke-linecap="butt"><path d="M144.50 35.40 L147.40 42.40" stroke-width="0.98"/><path d="M150.30 35.40 L147.40 42.40" stroke-width="0.64"/><path d="M145.43 37.64 H149.37" stroke-width="0.64"/><path d="M144.10 35.70 H144.90 M149.90 35.70 H150.70" stroke-width="0.59"/></g>
<g fill="none" stroke="#3c3c3c" stroke-linecap="butt"><path d="M164.30 143.90 L167.20 150.90" stroke-width="0.98"/><path d="M170.10 143.90 L167.20 150.90" stroke-width="0.64"/><path d="M165.23 146.14 H169.17" stroke-width="0.64"/><path d="M163.90 144.20 H164.70 M169.70 144.20 H170.50" stroke-width="0.59"/></g>
<g fill="none" stroke="#3c3c3c" stroke-linecap="butt"><path d="M173.30 155.30 L176.20 162.30" stroke-width="0.98"/><path d="M179.10 155.30 L176.20 162.30" stroke-width="0.64"/><path d="M174.23 157.54 H178.17" stroke-width="0.64"/><path d="M172.90 155.60 H173.70 M178.70 155.60 H179.50" stroke-width="0.59"/></g>
<g fill="none" stroke="#3c3c3c" stroke-linecap="butt"><path d="M230.90 153.90 L233.80 160.90" stroke-width="0.98"/><path d="M236.70 153.90 L233.80 160.90" stroke-width="0.64"/><path d="M231.83 156.14 H235.77" stroke-width="0.64"/><path d="M230.50 154.20 H231.30 M236.30 154.20 H237.10" stroke-width="0.59"/></g>
<g fill="none" stroke="#3c3c3c" stroke-linecap="butt"><path d="M273.60 150.00 L276.50 157.00" stroke-width="0.98"/><path d="M279.40 150.00 L276.50 157.00" stroke-width="0.64"/><path d="M274.53 152.24 H278.47" stroke-width="0.64"/><path d="M273.20 150.30 H274.00 M279.00 150.30 H279.80" stroke-width="0.59"/></g>
<g fill="none" stroke="#3c3c3c" stroke-linecap="butt"><path d="M288.30 158.30 L291.20 165.30" stroke-width="0.98"/><path d="M294.10 158.30 L291.20 165.30" stroke-width="0.64"/><path d="M289.23 160.54 H293.17" stroke-width="0.64"/><path d="M287.90 158.60 H288.70 M293.70 158.60 H294.50" stroke-width="0.59"/></g>
<circle cx="114.10" cy="157.90" r="2.60" fill="#000"/>
<circle cx="167.10" cy="137.70" r="2.60" fill="#000"/>
<circle cx="203.70" cy="159.90" r="2.60" fill="#000"/>
<circle cx="276.60" cy="143.90" r="2.60" fill="#000"/>
<circle cx="310.50" cy="160.40" r="2.60" fill="#000"/>
</g>
<g stroke-width="1.6">
<path d="M30.4 19.2 H58.1" stroke="#a2a2a2"/>
<path d="M30.4 35.7 H58.1" stroke="#e8a7ad"/>
<path d="M30.4 52.4 H58.1" stroke="#a3b2e2"/>
</g>
</svg>
</body></html>
